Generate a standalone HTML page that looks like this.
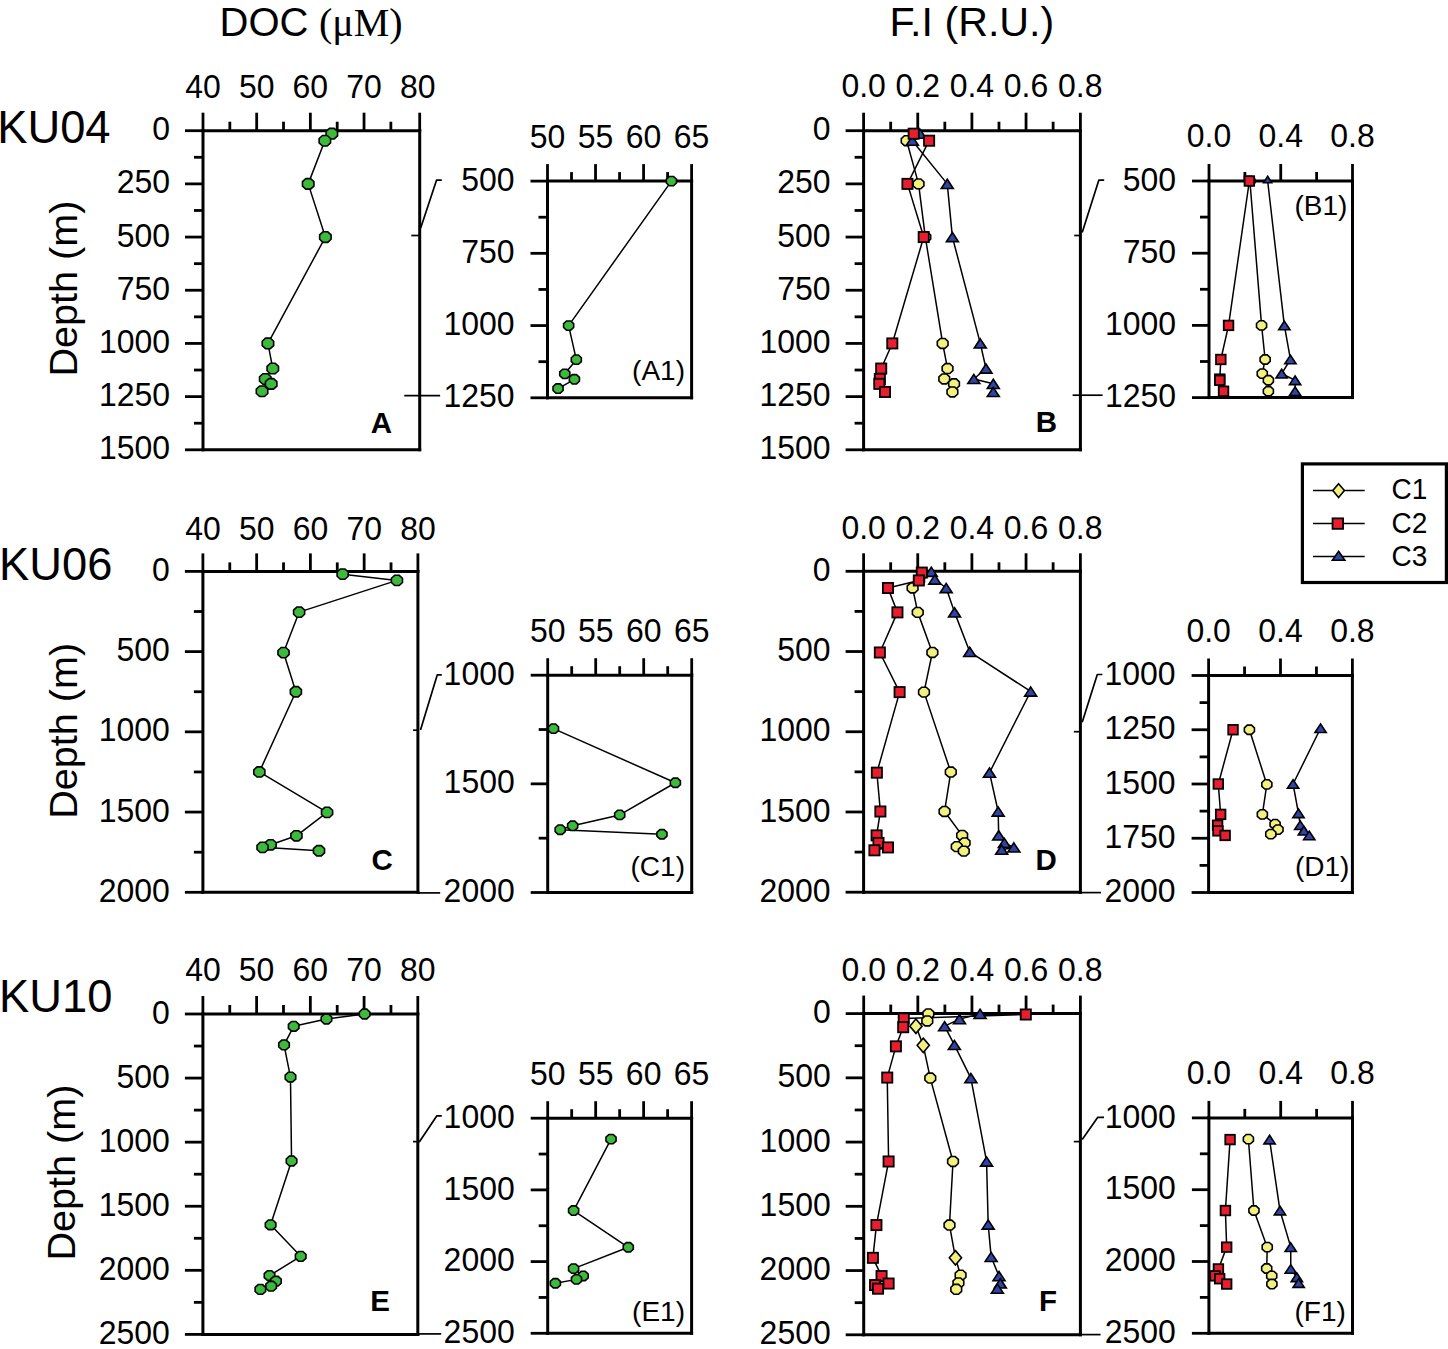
<!DOCTYPE html>
<html><head><meta charset="utf-8"><title>DOC and FI profiles</title>
<style>html,body{margin:0;padding:0;background:#fff;width:1448px;height:1349px;overflow:hidden}svg{display:block}</style>
</head><body>
<svg width="1448" height="1349" viewBox="0 0 1448 1349">
<rect width="100%" height="100%" fill="#fff"/>
<g stroke="#000" fill="none">
</g>
<g stroke="#000" fill="#000">
<line x1="203" y1="130.7" x2="419.7" y2="130.7" stroke-width="3" stroke-linecap="square"/>
<line x1="203" y1="449.8" x2="419.7" y2="449.8" stroke-width="3" stroke-linecap="square"/>
<line x1="203" y1="130.7" x2="203" y2="449.8" stroke-width="3" stroke-linecap="square"/>
<line x1="419.7" y1="130.7" x2="419.7" y2="449.8" stroke-width="3" stroke-linecap="square"/>
<line x1="203" y1="130.7" x2="203" y2="112.7" stroke-width="2.8" stroke-linecap="butt"/>
<line x1="229.84" y1="130.7" x2="229.84" y2="121.7" stroke-width="2.8" stroke-linecap="butt"/>
<line x1="256.68" y1="130.7" x2="256.68" y2="112.7" stroke-width="2.8" stroke-linecap="butt"/>
<line x1="283.51" y1="130.7" x2="283.51" y2="121.7" stroke-width="2.8" stroke-linecap="butt"/>
<line x1="310.35" y1="130.7" x2="310.35" y2="112.7" stroke-width="2.8" stroke-linecap="butt"/>
<line x1="337.19" y1="130.7" x2="337.19" y2="121.7" stroke-width="2.8" stroke-linecap="butt"/>
<line x1="364.02" y1="130.7" x2="364.02" y2="112.7" stroke-width="2.8" stroke-linecap="butt"/>
<line x1="390.86" y1="130.7" x2="390.86" y2="121.7" stroke-width="2.8" stroke-linecap="butt"/>
<line x1="419.7" y1="130.7" x2="419.7" y2="112.7" stroke-width="2.8" stroke-linecap="butt"/>
<line x1="203" y1="130.7" x2="185" y2="130.7" stroke-width="2.8" stroke-linecap="butt"/>
<line x1="203" y1="157.29" x2="194" y2="157.29" stroke-width="2.8" stroke-linecap="butt"/>
<line x1="203" y1="183.88" x2="185" y2="183.88" stroke-width="2.8" stroke-linecap="butt"/>
<line x1="203" y1="210.47" x2="194" y2="210.47" stroke-width="2.8" stroke-linecap="butt"/>
<line x1="203" y1="237.07" x2="185" y2="237.07" stroke-width="2.8" stroke-linecap="butt"/>
<line x1="203" y1="263.66" x2="194" y2="263.66" stroke-width="2.8" stroke-linecap="butt"/>
<line x1="203" y1="290.25" x2="185" y2="290.25" stroke-width="2.8" stroke-linecap="butt"/>
<line x1="203" y1="316.84" x2="194" y2="316.84" stroke-width="2.8" stroke-linecap="butt"/>
<line x1="203" y1="343.43" x2="185" y2="343.43" stroke-width="2.8" stroke-linecap="butt"/>
<line x1="203" y1="370.02" x2="194" y2="370.02" stroke-width="2.8" stroke-linecap="butt"/>
<line x1="203" y1="396.62" x2="185" y2="396.62" stroke-width="2.8" stroke-linecap="butt"/>
<line x1="203" y1="423.21" x2="194" y2="423.21" stroke-width="2.8" stroke-linecap="butt"/>
<line x1="203" y1="449.8" x2="185" y2="449.8" stroke-width="2.8" stroke-linecap="butt"/>
<text stroke="none" fill="#000" transform="translate(203,97.7) scale(0.94,1)" font-size="34" text-anchor="middle" font-weight="normal" font-family='"Liberation Sans", sans-serif' >40</text>
<text stroke="none" fill="#000" transform="translate(256.68,97.7) scale(0.94,1)" font-size="34" text-anchor="middle" font-weight="normal" font-family='"Liberation Sans", sans-serif' >50</text>
<text stroke="none" fill="#000" transform="translate(310.35,97.7) scale(0.94,1)" font-size="34" text-anchor="middle" font-weight="normal" font-family='"Liberation Sans", sans-serif' >60</text>
<text stroke="none" fill="#000" transform="translate(364.02,97.7) scale(0.94,1)" font-size="34" text-anchor="middle" font-weight="normal" font-family='"Liberation Sans", sans-serif' >70</text>
<text stroke="none" fill="#000" transform="translate(417.7,97.7) scale(0.94,1)" font-size="34" text-anchor="middle" font-weight="normal" font-family='"Liberation Sans", sans-serif' >80</text>
<text stroke="none" fill="#000" transform="translate(170,140.3) scale(0.94,1)" font-size="34" text-anchor="end" font-weight="normal" font-family='"Liberation Sans", sans-serif' >0</text>
<text stroke="none" fill="#000" transform="translate(170,193.48) scale(0.94,1)" font-size="34" text-anchor="end" font-weight="normal" font-family='"Liberation Sans", sans-serif' >250</text>
<text stroke="none" fill="#000" transform="translate(170,246.67) scale(0.94,1)" font-size="34" text-anchor="end" font-weight="normal" font-family='"Liberation Sans", sans-serif' >500</text>
<text stroke="none" fill="#000" transform="translate(170,299.85) scale(0.94,1)" font-size="34" text-anchor="end" font-weight="normal" font-family='"Liberation Sans", sans-serif' >750</text>
<text stroke="none" fill="#000" transform="translate(170,353.03) scale(0.94,1)" font-size="34" text-anchor="end" font-weight="normal" font-family='"Liberation Sans", sans-serif' >1000</text>
<text stroke="none" fill="#000" transform="translate(170,406.22) scale(0.94,1)" font-size="34" text-anchor="end" font-weight="normal" font-family='"Liberation Sans", sans-serif' >1250</text>
<text stroke="none" fill="#000" transform="translate(170,459.4) scale(0.94,1)" font-size="34" text-anchor="end" font-weight="normal" font-family='"Liberation Sans", sans-serif' >1500</text>
<line x1="547.5" y1="181.1" x2="691.6" y2="181.1" stroke-width="3" stroke-linecap="square"/>
<line x1="547.5" y1="397.8" x2="691.6" y2="397.8" stroke-width="3" stroke-linecap="square"/>
<line x1="547.5" y1="181.1" x2="547.5" y2="397.8" stroke-width="3" stroke-linecap="square"/>
<line x1="691.6" y1="181.1" x2="691.6" y2="397.8" stroke-width="3" stroke-linecap="square"/>
<line x1="547.5" y1="181.1" x2="547.5" y2="164.1" stroke-width="2.8" stroke-linecap="butt"/>
<line x1="571.52" y1="181.1" x2="571.52" y2="172.1" stroke-width="2.8" stroke-linecap="butt"/>
<line x1="595.53" y1="181.1" x2="595.53" y2="164.1" stroke-width="2.8" stroke-linecap="butt"/>
<line x1="619.55" y1="181.1" x2="619.55" y2="172.1" stroke-width="2.8" stroke-linecap="butt"/>
<line x1="643.57" y1="181.1" x2="643.57" y2="164.1" stroke-width="2.8" stroke-linecap="butt"/>
<line x1="667.58" y1="181.1" x2="667.58" y2="172.1" stroke-width="2.8" stroke-linecap="butt"/>
<line x1="691.6" y1="181.1" x2="691.6" y2="164.1" stroke-width="2.8" stroke-linecap="butt"/>
<line x1="547.5" y1="181.1" x2="530.5" y2="181.1" stroke-width="2.8" stroke-linecap="butt"/>
<line x1="547.5" y1="217.22" x2="538.5" y2="217.22" stroke-width="2.8" stroke-linecap="butt"/>
<line x1="547.5" y1="253.33" x2="530.5" y2="253.33" stroke-width="2.8" stroke-linecap="butt"/>
<line x1="547.5" y1="289.45" x2="538.5" y2="289.45" stroke-width="2.8" stroke-linecap="butt"/>
<line x1="547.5" y1="325.57" x2="530.5" y2="325.57" stroke-width="2.8" stroke-linecap="butt"/>
<line x1="547.5" y1="361.68" x2="538.5" y2="361.68" stroke-width="2.8" stroke-linecap="butt"/>
<line x1="547.5" y1="397.8" x2="530.5" y2="397.8" stroke-width="2.8" stroke-linecap="butt"/>
<text stroke="none" fill="#000" transform="translate(547.5,147.5) scale(0.94,1)" font-size="34" text-anchor="middle" font-weight="normal" font-family='"Liberation Sans", sans-serif' >50</text>
<text stroke="none" fill="#000" transform="translate(595.53,147.5) scale(0.94,1)" font-size="34" text-anchor="middle" font-weight="normal" font-family='"Liberation Sans", sans-serif' >55</text>
<text stroke="none" fill="#000" transform="translate(643.57,147.5) scale(0.94,1)" font-size="34" text-anchor="middle" font-weight="normal" font-family='"Liberation Sans", sans-serif' >60</text>
<text stroke="none" fill="#000" transform="translate(691.6,147.5) scale(0.94,1)" font-size="34" text-anchor="middle" font-weight="normal" font-family='"Liberation Sans", sans-serif' >65</text>
<text stroke="none" fill="#000" transform="translate(514.5,190.7) scale(0.94,1)" font-size="34" text-anchor="end" font-weight="normal" font-family='"Liberation Sans", sans-serif' >500</text>
<text stroke="none" fill="#000" transform="translate(514.5,262.93) scale(0.94,1)" font-size="34" text-anchor="end" font-weight="normal" font-family='"Liberation Sans", sans-serif' >750</text>
<text stroke="none" fill="#000" transform="translate(514.5,335.17) scale(0.94,1)" font-size="34" text-anchor="end" font-weight="normal" font-family='"Liberation Sans", sans-serif' >1000</text>
<text stroke="none" fill="#000" transform="translate(514.5,407.4) scale(0.94,1)" font-size="34" text-anchor="end" font-weight="normal" font-family='"Liberation Sans", sans-serif' >1250</text>
<line x1="863.6" y1="130.7" x2="1080.4" y2="130.7" stroke-width="3" stroke-linecap="square"/>
<line x1="863.6" y1="449.8" x2="1080.4" y2="449.8" stroke-width="3" stroke-linecap="square"/>
<line x1="863.6" y1="130.7" x2="863.6" y2="449.8" stroke-width="3" stroke-linecap="square"/>
<line x1="1080.4" y1="130.7" x2="1080.4" y2="449.8" stroke-width="3" stroke-linecap="square"/>
<line x1="863.6" y1="130.7" x2="863.6" y2="112.7" stroke-width="2.8" stroke-linecap="butt"/>
<line x1="890.68" y1="130.7" x2="890.68" y2="121.7" stroke-width="2.8" stroke-linecap="butt"/>
<line x1="917.75" y1="130.7" x2="917.75" y2="112.7" stroke-width="2.8" stroke-linecap="butt"/>
<line x1="944.83" y1="130.7" x2="944.83" y2="121.7" stroke-width="2.8" stroke-linecap="butt"/>
<line x1="971.9" y1="130.7" x2="971.9" y2="112.7" stroke-width="2.8" stroke-linecap="butt"/>
<line x1="998.98" y1="130.7" x2="998.98" y2="121.7" stroke-width="2.8" stroke-linecap="butt"/>
<line x1="1026.05" y1="130.7" x2="1026.05" y2="112.7" stroke-width="2.8" stroke-linecap="butt"/>
<line x1="1053.12" y1="130.7" x2="1053.12" y2="121.7" stroke-width="2.8" stroke-linecap="butt"/>
<line x1="1080.4" y1="130.7" x2="1080.4" y2="112.7" stroke-width="2.8" stroke-linecap="butt"/>
<line x1="863.6" y1="130.7" x2="845.6" y2="130.7" stroke-width="2.8" stroke-linecap="butt"/>
<line x1="863.6" y1="157.29" x2="854.6" y2="157.29" stroke-width="2.8" stroke-linecap="butt"/>
<line x1="863.6" y1="183.88" x2="845.6" y2="183.88" stroke-width="2.8" stroke-linecap="butt"/>
<line x1="863.6" y1="210.47" x2="854.6" y2="210.47" stroke-width="2.8" stroke-linecap="butt"/>
<line x1="863.6" y1="237.07" x2="845.6" y2="237.07" stroke-width="2.8" stroke-linecap="butt"/>
<line x1="863.6" y1="263.66" x2="854.6" y2="263.66" stroke-width="2.8" stroke-linecap="butt"/>
<line x1="863.6" y1="290.25" x2="845.6" y2="290.25" stroke-width="2.8" stroke-linecap="butt"/>
<line x1="863.6" y1="316.84" x2="854.6" y2="316.84" stroke-width="2.8" stroke-linecap="butt"/>
<line x1="863.6" y1="343.43" x2="845.6" y2="343.43" stroke-width="2.8" stroke-linecap="butt"/>
<line x1="863.6" y1="370.02" x2="854.6" y2="370.02" stroke-width="2.8" stroke-linecap="butt"/>
<line x1="863.6" y1="396.62" x2="845.6" y2="396.62" stroke-width="2.8" stroke-linecap="butt"/>
<line x1="863.6" y1="423.21" x2="854.6" y2="423.21" stroke-width="2.8" stroke-linecap="butt"/>
<line x1="863.6" y1="449.8" x2="845.6" y2="449.8" stroke-width="2.8" stroke-linecap="butt"/>
<text stroke="none" fill="#000" transform="translate(863.6,97.4) scale(0.94,1)" font-size="34" text-anchor="middle" font-weight="normal" font-family='"Liberation Sans", sans-serif' >0.0</text>
<text stroke="none" fill="#000" transform="translate(917.75,97.4) scale(0.94,1)" font-size="34" text-anchor="middle" font-weight="normal" font-family='"Liberation Sans", sans-serif' >0.2</text>
<text stroke="none" fill="#000" transform="translate(971.9,97.4) scale(0.94,1)" font-size="34" text-anchor="middle" font-weight="normal" font-family='"Liberation Sans", sans-serif' >0.4</text>
<text stroke="none" fill="#000" transform="translate(1026.05,97.4) scale(0.94,1)" font-size="34" text-anchor="middle" font-weight="normal" font-family='"Liberation Sans", sans-serif' >0.6</text>
<text stroke="none" fill="#000" transform="translate(1080.2,97.4) scale(0.94,1)" font-size="34" text-anchor="middle" font-weight="normal" font-family='"Liberation Sans", sans-serif' >0.8</text>
<text stroke="none" fill="#000" transform="translate(830.6,140.3) scale(0.94,1)" font-size="34" text-anchor="end" font-weight="normal" font-family='"Liberation Sans", sans-serif' >0</text>
<text stroke="none" fill="#000" transform="translate(830.6,193.48) scale(0.94,1)" font-size="34" text-anchor="end" font-weight="normal" font-family='"Liberation Sans", sans-serif' >250</text>
<text stroke="none" fill="#000" transform="translate(830.6,246.67) scale(0.94,1)" font-size="34" text-anchor="end" font-weight="normal" font-family='"Liberation Sans", sans-serif' >500</text>
<text stroke="none" fill="#000" transform="translate(830.6,299.85) scale(0.94,1)" font-size="34" text-anchor="end" font-weight="normal" font-family='"Liberation Sans", sans-serif' >750</text>
<text stroke="none" fill="#000" transform="translate(830.6,353.03) scale(0.94,1)" font-size="34" text-anchor="end" font-weight="normal" font-family='"Liberation Sans", sans-serif' >1000</text>
<text stroke="none" fill="#000" transform="translate(830.6,406.22) scale(0.94,1)" font-size="34" text-anchor="end" font-weight="normal" font-family='"Liberation Sans", sans-serif' >1250</text>
<text stroke="none" fill="#000" transform="translate(830.6,459.4) scale(0.94,1)" font-size="34" text-anchor="end" font-weight="normal" font-family='"Liberation Sans", sans-serif' >1500</text>
<line x1="1209" y1="181" x2="1352.5" y2="181" stroke-width="3" stroke-linecap="square"/>
<line x1="1209" y1="397.6" x2="1352.5" y2="397.6" stroke-width="3" stroke-linecap="square"/>
<line x1="1209" y1="181" x2="1209" y2="397.6" stroke-width="3" stroke-linecap="square"/>
<line x1="1352.5" y1="181" x2="1352.5" y2="397.6" stroke-width="3" stroke-linecap="square"/>
<line x1="1209" y1="181" x2="1209" y2="164" stroke-width="2.8" stroke-linecap="butt"/>
<line x1="1244.88" y1="181" x2="1244.88" y2="172" stroke-width="2.8" stroke-linecap="butt"/>
<line x1="1280.75" y1="181" x2="1280.75" y2="164" stroke-width="2.8" stroke-linecap="butt"/>
<line x1="1316.62" y1="181" x2="1316.62" y2="172" stroke-width="2.8" stroke-linecap="butt"/>
<line x1="1352.5" y1="181" x2="1352.5" y2="164" stroke-width="2.8" stroke-linecap="butt"/>
<line x1="1209" y1="181" x2="1192" y2="181" stroke-width="2.8" stroke-linecap="butt"/>
<line x1="1209" y1="217.1" x2="1200" y2="217.1" stroke-width="2.8" stroke-linecap="butt"/>
<line x1="1209" y1="253.2" x2="1192" y2="253.2" stroke-width="2.8" stroke-linecap="butt"/>
<line x1="1209" y1="289.3" x2="1200" y2="289.3" stroke-width="2.8" stroke-linecap="butt"/>
<line x1="1209" y1="325.4" x2="1192" y2="325.4" stroke-width="2.8" stroke-linecap="butt"/>
<line x1="1209" y1="361.5" x2="1200" y2="361.5" stroke-width="2.8" stroke-linecap="butt"/>
<line x1="1209" y1="397.6" x2="1192" y2="397.6" stroke-width="2.8" stroke-linecap="butt"/>
<text stroke="none" fill="#000" transform="translate(1209,147.4) scale(0.94,1)" font-size="34" text-anchor="middle" font-weight="normal" font-family='"Liberation Sans", sans-serif' >0.0</text>
<text stroke="none" fill="#000" transform="translate(1280.75,147.4) scale(0.94,1)" font-size="34" text-anchor="middle" font-weight="normal" font-family='"Liberation Sans", sans-serif' >0.4</text>
<text stroke="none" fill="#000" transform="translate(1352.5,147.4) scale(0.94,1)" font-size="34" text-anchor="middle" font-weight="normal" font-family='"Liberation Sans", sans-serif' >0.8</text>
<text stroke="none" fill="#000" transform="translate(1176,190.6) scale(0.94,1)" font-size="34" text-anchor="end" font-weight="normal" font-family='"Liberation Sans", sans-serif' >500</text>
<text stroke="none" fill="#000" transform="translate(1176,262.8) scale(0.94,1)" font-size="34" text-anchor="end" font-weight="normal" font-family='"Liberation Sans", sans-serif' >750</text>
<text stroke="none" fill="#000" transform="translate(1176,335) scale(0.94,1)" font-size="34" text-anchor="end" font-weight="normal" font-family='"Liberation Sans", sans-serif' >1000</text>
<text stroke="none" fill="#000" transform="translate(1176,407.2) scale(0.94,1)" font-size="34" text-anchor="end" font-weight="normal" font-family='"Liberation Sans", sans-serif' >1250</text>
<line x1="202.9" y1="571.4" x2="417.9" y2="571.4" stroke-width="3" stroke-linecap="square"/>
<line x1="202.9" y1="892.3" x2="417.9" y2="892.3" stroke-width="3" stroke-linecap="square"/>
<line x1="202.9" y1="571.4" x2="202.9" y2="892.3" stroke-width="3" stroke-linecap="square"/>
<line x1="417.9" y1="571.4" x2="417.9" y2="892.3" stroke-width="3" stroke-linecap="square"/>
<line x1="202.9" y1="571.4" x2="202.9" y2="553.4" stroke-width="2.8" stroke-linecap="butt"/>
<line x1="229.78" y1="571.4" x2="229.78" y2="562.4" stroke-width="2.8" stroke-linecap="butt"/>
<line x1="256.65" y1="571.4" x2="256.65" y2="553.4" stroke-width="2.8" stroke-linecap="butt"/>
<line x1="283.52" y1="571.4" x2="283.52" y2="562.4" stroke-width="2.8" stroke-linecap="butt"/>
<line x1="310.4" y1="571.4" x2="310.4" y2="553.4" stroke-width="2.8" stroke-linecap="butt"/>
<line x1="337.27" y1="571.4" x2="337.27" y2="562.4" stroke-width="2.8" stroke-linecap="butt"/>
<line x1="364.15" y1="571.4" x2="364.15" y2="553.4" stroke-width="2.8" stroke-linecap="butt"/>
<line x1="391.02" y1="571.4" x2="391.02" y2="562.4" stroke-width="2.8" stroke-linecap="butt"/>
<line x1="417.9" y1="571.4" x2="417.9" y2="553.4" stroke-width="2.8" stroke-linecap="butt"/>
<line x1="202.9" y1="571.4" x2="184.9" y2="571.4" stroke-width="2.8" stroke-linecap="butt"/>
<line x1="202.9" y1="611.51" x2="193.9" y2="611.51" stroke-width="2.8" stroke-linecap="butt"/>
<line x1="202.9" y1="651.62" x2="184.9" y2="651.62" stroke-width="2.8" stroke-linecap="butt"/>
<line x1="202.9" y1="691.74" x2="193.9" y2="691.74" stroke-width="2.8" stroke-linecap="butt"/>
<line x1="202.9" y1="731.85" x2="184.9" y2="731.85" stroke-width="2.8" stroke-linecap="butt"/>
<line x1="202.9" y1="771.96" x2="193.9" y2="771.96" stroke-width="2.8" stroke-linecap="butt"/>
<line x1="202.9" y1="812.07" x2="184.9" y2="812.07" stroke-width="2.8" stroke-linecap="butt"/>
<line x1="202.9" y1="852.19" x2="193.9" y2="852.19" stroke-width="2.8" stroke-linecap="butt"/>
<line x1="202.9" y1="892.3" x2="184.9" y2="892.3" stroke-width="2.8" stroke-linecap="butt"/>
<text stroke="none" fill="#000" transform="translate(202.9,539.7) scale(0.94,1)" font-size="34" text-anchor="middle" font-weight="normal" font-family='"Liberation Sans", sans-serif' >40</text>
<text stroke="none" fill="#000" transform="translate(256.65,539.7) scale(0.94,1)" font-size="34" text-anchor="middle" font-weight="normal" font-family='"Liberation Sans", sans-serif' >50</text>
<text stroke="none" fill="#000" transform="translate(310.4,539.7) scale(0.94,1)" font-size="34" text-anchor="middle" font-weight="normal" font-family='"Liberation Sans", sans-serif' >60</text>
<text stroke="none" fill="#000" transform="translate(364.15,539.7) scale(0.94,1)" font-size="34" text-anchor="middle" font-weight="normal" font-family='"Liberation Sans", sans-serif' >70</text>
<text stroke="none" fill="#000" transform="translate(417.9,539.7) scale(0.94,1)" font-size="34" text-anchor="middle" font-weight="normal" font-family='"Liberation Sans", sans-serif' >80</text>
<text stroke="none" fill="#000" transform="translate(169.9,581) scale(0.94,1)" font-size="34" text-anchor="end" font-weight="normal" font-family='"Liberation Sans", sans-serif' >0</text>
<text stroke="none" fill="#000" transform="translate(169.9,661.23) scale(0.94,1)" font-size="34" text-anchor="end" font-weight="normal" font-family='"Liberation Sans", sans-serif' >500</text>
<text stroke="none" fill="#000" transform="translate(169.9,741.45) scale(0.94,1)" font-size="34" text-anchor="end" font-weight="normal" font-family='"Liberation Sans", sans-serif' >1000</text>
<text stroke="none" fill="#000" transform="translate(169.9,821.67) scale(0.94,1)" font-size="34" text-anchor="end" font-weight="normal" font-family='"Liberation Sans", sans-serif' >1500</text>
<text stroke="none" fill="#000" transform="translate(169.9,901.9) scale(0.94,1)" font-size="34" text-anchor="end" font-weight="normal" font-family='"Liberation Sans", sans-serif' >2000</text>
<line x1="547.7" y1="675.2" x2="691.7" y2="675.2" stroke-width="3" stroke-linecap="square"/>
<line x1="547.7" y1="892.5" x2="691.7" y2="892.5" stroke-width="3" stroke-linecap="square"/>
<line x1="547.7" y1="675.2" x2="547.7" y2="892.5" stroke-width="3" stroke-linecap="square"/>
<line x1="691.7" y1="675.2" x2="691.7" y2="892.5" stroke-width="3" stroke-linecap="square"/>
<line x1="547.7" y1="675.2" x2="547.7" y2="658.2" stroke-width="2.8" stroke-linecap="butt"/>
<line x1="571.7" y1="675.2" x2="571.7" y2="666.2" stroke-width="2.8" stroke-linecap="butt"/>
<line x1="595.7" y1="675.2" x2="595.7" y2="658.2" stroke-width="2.8" stroke-linecap="butt"/>
<line x1="619.7" y1="675.2" x2="619.7" y2="666.2" stroke-width="2.8" stroke-linecap="butt"/>
<line x1="643.7" y1="675.2" x2="643.7" y2="658.2" stroke-width="2.8" stroke-linecap="butt"/>
<line x1="667.7" y1="675.2" x2="667.7" y2="666.2" stroke-width="2.8" stroke-linecap="butt"/>
<line x1="691.7" y1="675.2" x2="691.7" y2="658.2" stroke-width="2.8" stroke-linecap="butt"/>
<line x1="547.7" y1="675.2" x2="530.7" y2="675.2" stroke-width="2.8" stroke-linecap="butt"/>
<line x1="547.7" y1="729.53" x2="538.7" y2="729.53" stroke-width="2.8" stroke-linecap="butt"/>
<line x1="547.7" y1="783.85" x2="530.7" y2="783.85" stroke-width="2.8" stroke-linecap="butt"/>
<line x1="547.7" y1="838.17" x2="538.7" y2="838.17" stroke-width="2.8" stroke-linecap="butt"/>
<line x1="547.7" y1="892.5" x2="530.7" y2="892.5" stroke-width="2.8" stroke-linecap="butt"/>
<text stroke="none" fill="#000" transform="translate(547.7,641.5) scale(0.94,1)" font-size="34" text-anchor="middle" font-weight="normal" font-family='"Liberation Sans", sans-serif' >50</text>
<text stroke="none" fill="#000" transform="translate(595.7,641.5) scale(0.94,1)" font-size="34" text-anchor="middle" font-weight="normal" font-family='"Liberation Sans", sans-serif' >55</text>
<text stroke="none" fill="#000" transform="translate(643.7,641.5) scale(0.94,1)" font-size="34" text-anchor="middle" font-weight="normal" font-family='"Liberation Sans", sans-serif' >60</text>
<text stroke="none" fill="#000" transform="translate(691.7,641.5) scale(0.94,1)" font-size="34" text-anchor="middle" font-weight="normal" font-family='"Liberation Sans", sans-serif' >65</text>
<text stroke="none" fill="#000" transform="translate(514.7,684.8) scale(0.94,1)" font-size="34" text-anchor="end" font-weight="normal" font-family='"Liberation Sans", sans-serif' >1000</text>
<text stroke="none" fill="#000" transform="translate(514.7,793.45) scale(0.94,1)" font-size="34" text-anchor="end" font-weight="normal" font-family='"Liberation Sans", sans-serif' >1500</text>
<text stroke="none" fill="#000" transform="translate(514.7,902.1) scale(0.94,1)" font-size="34" text-anchor="end" font-weight="normal" font-family='"Liberation Sans", sans-serif' >2000</text>
<line x1="863.6" y1="571.3" x2="1080.4" y2="571.3" stroke-width="3" stroke-linecap="square"/>
<line x1="863.6" y1="892.2" x2="1080.4" y2="892.2" stroke-width="3" stroke-linecap="square"/>
<line x1="863.6" y1="571.3" x2="863.6" y2="892.2" stroke-width="3" stroke-linecap="square"/>
<line x1="1080.4" y1="571.3" x2="1080.4" y2="892.2" stroke-width="3" stroke-linecap="square"/>
<line x1="863.6" y1="571.3" x2="863.6" y2="553.3" stroke-width="2.8" stroke-linecap="butt"/>
<line x1="890.68" y1="571.3" x2="890.68" y2="562.3" stroke-width="2.8" stroke-linecap="butt"/>
<line x1="917.75" y1="571.3" x2="917.75" y2="553.3" stroke-width="2.8" stroke-linecap="butt"/>
<line x1="944.83" y1="571.3" x2="944.83" y2="562.3" stroke-width="2.8" stroke-linecap="butt"/>
<line x1="971.9" y1="571.3" x2="971.9" y2="553.3" stroke-width="2.8" stroke-linecap="butt"/>
<line x1="998.98" y1="571.3" x2="998.98" y2="562.3" stroke-width="2.8" stroke-linecap="butt"/>
<line x1="1026.05" y1="571.3" x2="1026.05" y2="553.3" stroke-width="2.8" stroke-linecap="butt"/>
<line x1="1053.12" y1="571.3" x2="1053.12" y2="562.3" stroke-width="2.8" stroke-linecap="butt"/>
<line x1="1080.4" y1="571.3" x2="1080.4" y2="553.3" stroke-width="2.8" stroke-linecap="butt"/>
<line x1="863.6" y1="571.3" x2="845.6" y2="571.3" stroke-width="2.8" stroke-linecap="butt"/>
<line x1="863.6" y1="611.41" x2="854.6" y2="611.41" stroke-width="2.8" stroke-linecap="butt"/>
<line x1="863.6" y1="651.52" x2="845.6" y2="651.52" stroke-width="2.8" stroke-linecap="butt"/>
<line x1="863.6" y1="691.64" x2="854.6" y2="691.64" stroke-width="2.8" stroke-linecap="butt"/>
<line x1="863.6" y1="731.75" x2="845.6" y2="731.75" stroke-width="2.8" stroke-linecap="butt"/>
<line x1="863.6" y1="771.86" x2="854.6" y2="771.86" stroke-width="2.8" stroke-linecap="butt"/>
<line x1="863.6" y1="811.98" x2="845.6" y2="811.98" stroke-width="2.8" stroke-linecap="butt"/>
<line x1="863.6" y1="852.09" x2="854.6" y2="852.09" stroke-width="2.8" stroke-linecap="butt"/>
<line x1="863.6" y1="892.2" x2="845.6" y2="892.2" stroke-width="2.8" stroke-linecap="butt"/>
<text stroke="none" fill="#000" transform="translate(863.6,539.3) scale(0.94,1)" font-size="34" text-anchor="middle" font-weight="normal" font-family='"Liberation Sans", sans-serif' >0.0</text>
<text stroke="none" fill="#000" transform="translate(917.75,539.3) scale(0.94,1)" font-size="34" text-anchor="middle" font-weight="normal" font-family='"Liberation Sans", sans-serif' >0.2</text>
<text stroke="none" fill="#000" transform="translate(971.9,539.3) scale(0.94,1)" font-size="34" text-anchor="middle" font-weight="normal" font-family='"Liberation Sans", sans-serif' >0.4</text>
<text stroke="none" fill="#000" transform="translate(1026.05,539.3) scale(0.94,1)" font-size="34" text-anchor="middle" font-weight="normal" font-family='"Liberation Sans", sans-serif' >0.6</text>
<text stroke="none" fill="#000" transform="translate(1080.2,539.3) scale(0.94,1)" font-size="34" text-anchor="middle" font-weight="normal" font-family='"Liberation Sans", sans-serif' >0.8</text>
<text stroke="none" fill="#000" transform="translate(830.6,580.9) scale(0.94,1)" font-size="34" text-anchor="end" font-weight="normal" font-family='"Liberation Sans", sans-serif' >0</text>
<text stroke="none" fill="#000" transform="translate(830.6,661.12) scale(0.94,1)" font-size="34" text-anchor="end" font-weight="normal" font-family='"Liberation Sans", sans-serif' >500</text>
<text stroke="none" fill="#000" transform="translate(830.6,741.35) scale(0.94,1)" font-size="34" text-anchor="end" font-weight="normal" font-family='"Liberation Sans", sans-serif' >1000</text>
<text stroke="none" fill="#000" transform="translate(830.6,821.58) scale(0.94,1)" font-size="34" text-anchor="end" font-weight="normal" font-family='"Liberation Sans", sans-serif' >1500</text>
<text stroke="none" fill="#000" transform="translate(830.6,901.8) scale(0.94,1)" font-size="34" text-anchor="end" font-weight="normal" font-family='"Liberation Sans", sans-serif' >2000</text>
<line x1="1208.6" y1="675.5" x2="1352.4" y2="675.5" stroke-width="3" stroke-linecap="square"/>
<line x1="1208.6" y1="892.5" x2="1352.4" y2="892.5" stroke-width="3" stroke-linecap="square"/>
<line x1="1208.6" y1="675.5" x2="1208.6" y2="892.5" stroke-width="3" stroke-linecap="square"/>
<line x1="1352.4" y1="675.5" x2="1352.4" y2="892.5" stroke-width="3" stroke-linecap="square"/>
<line x1="1208.6" y1="675.5" x2="1208.6" y2="658.5" stroke-width="2.8" stroke-linecap="butt"/>
<line x1="1244.55" y1="675.5" x2="1244.55" y2="666.5" stroke-width="2.8" stroke-linecap="butt"/>
<line x1="1280.5" y1="675.5" x2="1280.5" y2="658.5" stroke-width="2.8" stroke-linecap="butt"/>
<line x1="1316.45" y1="675.5" x2="1316.45" y2="666.5" stroke-width="2.8" stroke-linecap="butt"/>
<line x1="1352.4" y1="675.5" x2="1352.4" y2="658.5" stroke-width="2.8" stroke-linecap="butt"/>
<line x1="1208.6" y1="675.5" x2="1191.6" y2="675.5" stroke-width="2.8" stroke-linecap="butt"/>
<line x1="1208.6" y1="702.62" x2="1199.6" y2="702.62" stroke-width="2.8" stroke-linecap="butt"/>
<line x1="1208.6" y1="729.75" x2="1191.6" y2="729.75" stroke-width="2.8" stroke-linecap="butt"/>
<line x1="1208.6" y1="756.88" x2="1199.6" y2="756.88" stroke-width="2.8" stroke-linecap="butt"/>
<line x1="1208.6" y1="784" x2="1191.6" y2="784" stroke-width="2.8" stroke-linecap="butt"/>
<line x1="1208.6" y1="811.12" x2="1199.6" y2="811.12" stroke-width="2.8" stroke-linecap="butt"/>
<line x1="1208.6" y1="838.25" x2="1191.6" y2="838.25" stroke-width="2.8" stroke-linecap="butt"/>
<line x1="1208.6" y1="865.38" x2="1199.6" y2="865.38" stroke-width="2.8" stroke-linecap="butt"/>
<line x1="1208.6" y1="892.5" x2="1191.6" y2="892.5" stroke-width="2.8" stroke-linecap="butt"/>
<text stroke="none" fill="#000" transform="translate(1208.6,642) scale(0.94,1)" font-size="34" text-anchor="middle" font-weight="normal" font-family='"Liberation Sans", sans-serif' >0.0</text>
<text stroke="none" fill="#000" transform="translate(1280.5,642) scale(0.94,1)" font-size="34" text-anchor="middle" font-weight="normal" font-family='"Liberation Sans", sans-serif' >0.4</text>
<text stroke="none" fill="#000" transform="translate(1352.4,642) scale(0.94,1)" font-size="34" text-anchor="middle" font-weight="normal" font-family='"Liberation Sans", sans-serif' >0.8</text>
<text stroke="none" fill="#000" transform="translate(1175.6,685.1) scale(0.94,1)" font-size="34" text-anchor="end" font-weight="normal" font-family='"Liberation Sans", sans-serif' >1000</text>
<text stroke="none" fill="#000" transform="translate(1175.6,739.35) scale(0.94,1)" font-size="34" text-anchor="end" font-weight="normal" font-family='"Liberation Sans", sans-serif' >1250</text>
<text stroke="none" fill="#000" transform="translate(1175.6,793.6) scale(0.94,1)" font-size="34" text-anchor="end" font-weight="normal" font-family='"Liberation Sans", sans-serif' >1500</text>
<text stroke="none" fill="#000" transform="translate(1175.6,847.85) scale(0.94,1)" font-size="34" text-anchor="end" font-weight="normal" font-family='"Liberation Sans", sans-serif' >1750</text>
<text stroke="none" fill="#000" transform="translate(1175.6,902.1) scale(0.94,1)" font-size="34" text-anchor="end" font-weight="normal" font-family='"Liberation Sans", sans-serif' >2000</text>
<line x1="202.9" y1="1014" x2="417.8" y2="1014" stroke-width="3" stroke-linecap="square"/>
<line x1="202.9" y1="1334.4" x2="417.8" y2="1334.4" stroke-width="3" stroke-linecap="square"/>
<line x1="202.9" y1="1014" x2="202.9" y2="1334.4" stroke-width="3" stroke-linecap="square"/>
<line x1="417.8" y1="1014" x2="417.8" y2="1334.4" stroke-width="3" stroke-linecap="square"/>
<line x1="202.9" y1="1014" x2="202.9" y2="996" stroke-width="2.8" stroke-linecap="butt"/>
<line x1="229.76" y1="1014" x2="229.76" y2="1005" stroke-width="2.8" stroke-linecap="butt"/>
<line x1="256.62" y1="1014" x2="256.62" y2="996" stroke-width="2.8" stroke-linecap="butt"/>
<line x1="283.49" y1="1014" x2="283.49" y2="1005" stroke-width="2.8" stroke-linecap="butt"/>
<line x1="310.35" y1="1014" x2="310.35" y2="996" stroke-width="2.8" stroke-linecap="butt"/>
<line x1="337.21" y1="1014" x2="337.21" y2="1005" stroke-width="2.8" stroke-linecap="butt"/>
<line x1="364.08" y1="1014" x2="364.08" y2="996" stroke-width="2.8" stroke-linecap="butt"/>
<line x1="390.94" y1="1014" x2="390.94" y2="1005" stroke-width="2.8" stroke-linecap="butt"/>
<line x1="417.8" y1="1014" x2="417.8" y2="996" stroke-width="2.8" stroke-linecap="butt"/>
<line x1="202.9" y1="1014" x2="184.9" y2="1014" stroke-width="2.8" stroke-linecap="butt"/>
<line x1="202.9" y1="1046.04" x2="193.9" y2="1046.04" stroke-width="2.8" stroke-linecap="butt"/>
<line x1="202.9" y1="1078.08" x2="184.9" y2="1078.08" stroke-width="2.8" stroke-linecap="butt"/>
<line x1="202.9" y1="1110.12" x2="193.9" y2="1110.12" stroke-width="2.8" stroke-linecap="butt"/>
<line x1="202.9" y1="1142.16" x2="184.9" y2="1142.16" stroke-width="2.8" stroke-linecap="butt"/>
<line x1="202.9" y1="1174.2" x2="193.9" y2="1174.2" stroke-width="2.8" stroke-linecap="butt"/>
<line x1="202.9" y1="1206.24" x2="184.9" y2="1206.24" stroke-width="2.8" stroke-linecap="butt"/>
<line x1="202.9" y1="1238.28" x2="193.9" y2="1238.28" stroke-width="2.8" stroke-linecap="butt"/>
<line x1="202.9" y1="1270.32" x2="184.9" y2="1270.32" stroke-width="2.8" stroke-linecap="butt"/>
<line x1="202.9" y1="1302.36" x2="193.9" y2="1302.36" stroke-width="2.8" stroke-linecap="butt"/>
<line x1="202.9" y1="1334.4" x2="184.9" y2="1334.4" stroke-width="2.8" stroke-linecap="butt"/>
<text stroke="none" fill="#000" transform="translate(202.9,980.8) scale(0.94,1)" font-size="34" text-anchor="middle" font-weight="normal" font-family='"Liberation Sans", sans-serif' >40</text>
<text stroke="none" fill="#000" transform="translate(256.62,980.8) scale(0.94,1)" font-size="34" text-anchor="middle" font-weight="normal" font-family='"Liberation Sans", sans-serif' >50</text>
<text stroke="none" fill="#000" transform="translate(310.35,980.8) scale(0.94,1)" font-size="34" text-anchor="middle" font-weight="normal" font-family='"Liberation Sans", sans-serif' >60</text>
<text stroke="none" fill="#000" transform="translate(364.08,980.8) scale(0.94,1)" font-size="34" text-anchor="middle" font-weight="normal" font-family='"Liberation Sans", sans-serif' >70</text>
<text stroke="none" fill="#000" transform="translate(417.8,980.8) scale(0.94,1)" font-size="34" text-anchor="middle" font-weight="normal" font-family='"Liberation Sans", sans-serif' >80</text>
<text stroke="none" fill="#000" transform="translate(169.9,1023.6) scale(0.94,1)" font-size="34" text-anchor="end" font-weight="normal" font-family='"Liberation Sans", sans-serif' >0</text>
<text stroke="none" fill="#000" transform="translate(169.9,1087.68) scale(0.94,1)" font-size="34" text-anchor="end" font-weight="normal" font-family='"Liberation Sans", sans-serif' >500</text>
<text stroke="none" fill="#000" transform="translate(169.9,1151.76) scale(0.94,1)" font-size="34" text-anchor="end" font-weight="normal" font-family='"Liberation Sans", sans-serif' >1000</text>
<text stroke="none" fill="#000" transform="translate(169.9,1215.84) scale(0.94,1)" font-size="34" text-anchor="end" font-weight="normal" font-family='"Liberation Sans", sans-serif' >1500</text>
<text stroke="none" fill="#000" transform="translate(169.9,1279.92) scale(0.94,1)" font-size="34" text-anchor="end" font-weight="normal" font-family='"Liberation Sans", sans-serif' >2000</text>
<text stroke="none" fill="#000" transform="translate(169.9,1344) scale(0.94,1)" font-size="34" text-anchor="end" font-weight="normal" font-family='"Liberation Sans", sans-serif' >2500</text>
<line x1="547.7" y1="1118.2" x2="691.6" y2="1118.2" stroke-width="3" stroke-linecap="square"/>
<line x1="547.7" y1="1333.3" x2="691.6" y2="1333.3" stroke-width="3" stroke-linecap="square"/>
<line x1="547.7" y1="1118.2" x2="547.7" y2="1333.3" stroke-width="3" stroke-linecap="square"/>
<line x1="691.6" y1="1118.2" x2="691.6" y2="1333.3" stroke-width="3" stroke-linecap="square"/>
<line x1="547.7" y1="1118.2" x2="547.7" y2="1101.2" stroke-width="2.8" stroke-linecap="butt"/>
<line x1="571.68" y1="1118.2" x2="571.68" y2="1109.2" stroke-width="2.8" stroke-linecap="butt"/>
<line x1="595.67" y1="1118.2" x2="595.67" y2="1101.2" stroke-width="2.8" stroke-linecap="butt"/>
<line x1="619.65" y1="1118.2" x2="619.65" y2="1109.2" stroke-width="2.8" stroke-linecap="butt"/>
<line x1="643.63" y1="1118.2" x2="643.63" y2="1101.2" stroke-width="2.8" stroke-linecap="butt"/>
<line x1="667.62" y1="1118.2" x2="667.62" y2="1109.2" stroke-width="2.8" stroke-linecap="butt"/>
<line x1="691.6" y1="1118.2" x2="691.6" y2="1101.2" stroke-width="2.8" stroke-linecap="butt"/>
<line x1="547.7" y1="1118.2" x2="530.7" y2="1118.2" stroke-width="2.8" stroke-linecap="butt"/>
<line x1="547.7" y1="1154.05" x2="538.7" y2="1154.05" stroke-width="2.8" stroke-linecap="butt"/>
<line x1="547.7" y1="1189.9" x2="530.7" y2="1189.9" stroke-width="2.8" stroke-linecap="butt"/>
<line x1="547.7" y1="1225.75" x2="538.7" y2="1225.75" stroke-width="2.8" stroke-linecap="butt"/>
<line x1="547.7" y1="1261.6" x2="530.7" y2="1261.6" stroke-width="2.8" stroke-linecap="butt"/>
<line x1="547.7" y1="1297.45" x2="538.7" y2="1297.45" stroke-width="2.8" stroke-linecap="butt"/>
<line x1="547.7" y1="1333.3" x2="530.7" y2="1333.3" stroke-width="2.8" stroke-linecap="butt"/>
<text stroke="none" fill="#000" transform="translate(547.7,1084.6) scale(0.94,1)" font-size="34" text-anchor="middle" font-weight="normal" font-family='"Liberation Sans", sans-serif' >50</text>
<text stroke="none" fill="#000" transform="translate(595.67,1084.6) scale(0.94,1)" font-size="34" text-anchor="middle" font-weight="normal" font-family='"Liberation Sans", sans-serif' >55</text>
<text stroke="none" fill="#000" transform="translate(643.63,1084.6) scale(0.94,1)" font-size="34" text-anchor="middle" font-weight="normal" font-family='"Liberation Sans", sans-serif' >60</text>
<text stroke="none" fill="#000" transform="translate(691.6,1084.6) scale(0.94,1)" font-size="34" text-anchor="middle" font-weight="normal" font-family='"Liberation Sans", sans-serif' >65</text>
<text stroke="none" fill="#000" transform="translate(514.7,1127.8) scale(0.94,1)" font-size="34" text-anchor="end" font-weight="normal" font-family='"Liberation Sans", sans-serif' >1000</text>
<text stroke="none" fill="#000" transform="translate(514.7,1199.5) scale(0.94,1)" font-size="34" text-anchor="end" font-weight="normal" font-family='"Liberation Sans", sans-serif' >1500</text>
<text stroke="none" fill="#000" transform="translate(514.7,1271.2) scale(0.94,1)" font-size="34" text-anchor="end" font-weight="normal" font-family='"Liberation Sans", sans-serif' >2000</text>
<text stroke="none" fill="#000" transform="translate(514.7,1342.9) scale(0.94,1)" font-size="34" text-anchor="end" font-weight="normal" font-family='"Liberation Sans", sans-serif' >2500</text>
<line x1="863.7" y1="1013.6" x2="1080.4" y2="1013.6" stroke-width="3" stroke-linecap="square"/>
<line x1="863.7" y1="1334.8" x2="1080.4" y2="1334.8" stroke-width="3" stroke-linecap="square"/>
<line x1="863.7" y1="1013.6" x2="863.7" y2="1334.8" stroke-width="3" stroke-linecap="square"/>
<line x1="1080.4" y1="1013.6" x2="1080.4" y2="1334.8" stroke-width="3" stroke-linecap="square"/>
<line x1="863.7" y1="1013.6" x2="863.7" y2="995.6" stroke-width="2.8" stroke-linecap="butt"/>
<line x1="890.76" y1="1013.6" x2="890.76" y2="1004.6" stroke-width="2.8" stroke-linecap="butt"/>
<line x1="917.83" y1="1013.6" x2="917.83" y2="995.6" stroke-width="2.8" stroke-linecap="butt"/>
<line x1="944.89" y1="1013.6" x2="944.89" y2="1004.6" stroke-width="2.8" stroke-linecap="butt"/>
<line x1="971.95" y1="1013.6" x2="971.95" y2="995.6" stroke-width="2.8" stroke-linecap="butt"/>
<line x1="999.01" y1="1013.6" x2="999.01" y2="1004.6" stroke-width="2.8" stroke-linecap="butt"/>
<line x1="1026.08" y1="1013.6" x2="1026.08" y2="995.6" stroke-width="2.8" stroke-linecap="butt"/>
<line x1="1053.14" y1="1013.6" x2="1053.14" y2="1004.6" stroke-width="2.8" stroke-linecap="butt"/>
<line x1="1080.4" y1="1013.6" x2="1080.4" y2="995.6" stroke-width="2.8" stroke-linecap="butt"/>
<line x1="863.7" y1="1013.6" x2="845.7" y2="1013.6" stroke-width="2.8" stroke-linecap="butt"/>
<line x1="863.7" y1="1045.72" x2="854.7" y2="1045.72" stroke-width="2.8" stroke-linecap="butt"/>
<line x1="863.7" y1="1077.84" x2="845.7" y2="1077.84" stroke-width="2.8" stroke-linecap="butt"/>
<line x1="863.7" y1="1109.96" x2="854.7" y2="1109.96" stroke-width="2.8" stroke-linecap="butt"/>
<line x1="863.7" y1="1142.08" x2="845.7" y2="1142.08" stroke-width="2.8" stroke-linecap="butt"/>
<line x1="863.7" y1="1174.2" x2="854.7" y2="1174.2" stroke-width="2.8" stroke-linecap="butt"/>
<line x1="863.7" y1="1206.32" x2="845.7" y2="1206.32" stroke-width="2.8" stroke-linecap="butt"/>
<line x1="863.7" y1="1238.44" x2="854.7" y2="1238.44" stroke-width="2.8" stroke-linecap="butt"/>
<line x1="863.7" y1="1270.56" x2="845.7" y2="1270.56" stroke-width="2.8" stroke-linecap="butt"/>
<line x1="863.7" y1="1302.68" x2="854.7" y2="1302.68" stroke-width="2.8" stroke-linecap="butt"/>
<line x1="863.7" y1="1334.8" x2="845.7" y2="1334.8" stroke-width="2.8" stroke-linecap="butt"/>
<text stroke="none" fill="#000" transform="translate(863.7,980.7) scale(0.94,1)" font-size="34" text-anchor="middle" font-weight="normal" font-family='"Liberation Sans", sans-serif' >0.0</text>
<text stroke="none" fill="#000" transform="translate(917.83,980.7) scale(0.94,1)" font-size="34" text-anchor="middle" font-weight="normal" font-family='"Liberation Sans", sans-serif' >0.2</text>
<text stroke="none" fill="#000" transform="translate(971.95,980.7) scale(0.94,1)" font-size="34" text-anchor="middle" font-weight="normal" font-family='"Liberation Sans", sans-serif' >0.4</text>
<text stroke="none" fill="#000" transform="translate(1026.08,980.7) scale(0.94,1)" font-size="34" text-anchor="middle" font-weight="normal" font-family='"Liberation Sans", sans-serif' >0.6</text>
<text stroke="none" fill="#000" transform="translate(1080.2,980.7) scale(0.94,1)" font-size="34" text-anchor="middle" font-weight="normal" font-family='"Liberation Sans", sans-serif' >0.8</text>
<text stroke="none" fill="#000" transform="translate(830.7,1023.2) scale(0.94,1)" font-size="34" text-anchor="end" font-weight="normal" font-family='"Liberation Sans", sans-serif' >0</text>
<text stroke="none" fill="#000" transform="translate(830.7,1087.44) scale(0.94,1)" font-size="34" text-anchor="end" font-weight="normal" font-family='"Liberation Sans", sans-serif' >500</text>
<text stroke="none" fill="#000" transform="translate(830.7,1151.68) scale(0.94,1)" font-size="34" text-anchor="end" font-weight="normal" font-family='"Liberation Sans", sans-serif' >1000</text>
<text stroke="none" fill="#000" transform="translate(830.7,1215.92) scale(0.94,1)" font-size="34" text-anchor="end" font-weight="normal" font-family='"Liberation Sans", sans-serif' >1500</text>
<text stroke="none" fill="#000" transform="translate(830.7,1280.16) scale(0.94,1)" font-size="34" text-anchor="end" font-weight="normal" font-family='"Liberation Sans", sans-serif' >2000</text>
<text stroke="none" fill="#000" transform="translate(830.7,1344.4) scale(0.94,1)" font-size="34" text-anchor="end" font-weight="normal" font-family='"Liberation Sans", sans-serif' >2500</text>
<line x1="1208.9" y1="1117.9" x2="1352.5" y2="1117.9" stroke-width="3" stroke-linecap="square"/>
<line x1="1208.9" y1="1333.3" x2="1352.5" y2="1333.3" stroke-width="3" stroke-linecap="square"/>
<line x1="1208.9" y1="1117.9" x2="1208.9" y2="1333.3" stroke-width="3" stroke-linecap="square"/>
<line x1="1352.5" y1="1117.9" x2="1352.5" y2="1333.3" stroke-width="3" stroke-linecap="square"/>
<line x1="1208.9" y1="1117.9" x2="1208.9" y2="1100.9" stroke-width="2.8" stroke-linecap="butt"/>
<line x1="1244.8" y1="1117.9" x2="1244.8" y2="1108.9" stroke-width="2.8" stroke-linecap="butt"/>
<line x1="1280.7" y1="1117.9" x2="1280.7" y2="1100.9" stroke-width="2.8" stroke-linecap="butt"/>
<line x1="1316.6" y1="1117.9" x2="1316.6" y2="1108.9" stroke-width="2.8" stroke-linecap="butt"/>
<line x1="1352.5" y1="1117.9" x2="1352.5" y2="1100.9" stroke-width="2.8" stroke-linecap="butt"/>
<line x1="1208.9" y1="1117.9" x2="1191.9" y2="1117.9" stroke-width="2.8" stroke-linecap="butt"/>
<line x1="1208.9" y1="1153.8" x2="1199.9" y2="1153.8" stroke-width="2.8" stroke-linecap="butt"/>
<line x1="1208.9" y1="1189.7" x2="1191.9" y2="1189.7" stroke-width="2.8" stroke-linecap="butt"/>
<line x1="1208.9" y1="1225.6" x2="1199.9" y2="1225.6" stroke-width="2.8" stroke-linecap="butt"/>
<line x1="1208.9" y1="1261.5" x2="1191.9" y2="1261.5" stroke-width="2.8" stroke-linecap="butt"/>
<line x1="1208.9" y1="1297.4" x2="1199.9" y2="1297.4" stroke-width="2.8" stroke-linecap="butt"/>
<line x1="1208.9" y1="1333.3" x2="1191.9" y2="1333.3" stroke-width="2.8" stroke-linecap="butt"/>
<text stroke="none" fill="#000" transform="translate(1208.9,1084.3) scale(0.94,1)" font-size="34" text-anchor="middle" font-weight="normal" font-family='"Liberation Sans", sans-serif' >0.0</text>
<text stroke="none" fill="#000" transform="translate(1280.7,1084.3) scale(0.94,1)" font-size="34" text-anchor="middle" font-weight="normal" font-family='"Liberation Sans", sans-serif' >0.4</text>
<text stroke="none" fill="#000" transform="translate(1352.5,1084.3) scale(0.94,1)" font-size="34" text-anchor="middle" font-weight="normal" font-family='"Liberation Sans", sans-serif' >0.8</text>
<text stroke="none" fill="#000" transform="translate(1175.9,1127.5) scale(0.94,1)" font-size="34" text-anchor="end" font-weight="normal" font-family='"Liberation Sans", sans-serif' >1000</text>
<text stroke="none" fill="#000" transform="translate(1175.9,1199.3) scale(0.94,1)" font-size="34" text-anchor="end" font-weight="normal" font-family='"Liberation Sans", sans-serif' >1500</text>
<text stroke="none" fill="#000" transform="translate(1175.9,1271.1) scale(0.94,1)" font-size="34" text-anchor="end" font-weight="normal" font-family='"Liberation Sans", sans-serif' >2000</text>
<text stroke="none" fill="#000" transform="translate(1175.9,1342.9) scale(0.94,1)" font-size="34" text-anchor="end" font-weight="normal" font-family='"Liberation Sans", sans-serif' >2500</text>
</g>
<g stroke="#000" fill="none" stroke-width="1.7" stroke-linejoin="round">
<line x1="411.3" y1="235.5" x2="419.7" y2="235.5"/>
<polyline points="420.7,228 436.5,180.2 441.8,180.2"/>
<line x1="404.3" y1="395.6" x2="440.1" y2="395.6"/>
<line x1="1074.2" y1="235.5" x2="1080.4" y2="235.5"/>
<polyline points="1082.2,232.6 1098.8,180.2 1104.2,180.2"/>
<line x1="1072.6" y1="395.2" x2="1102.6" y2="395.2"/>
<line x1="413" y1="730.2" x2="417.9" y2="730.2"/>
<polyline points="420.5,730 437.3,674.8 441.8,674.8"/>
<line x1="417.9" y1="892.9" x2="440.2" y2="892.9"/>
<line x1="1073.9" y1="731.7" x2="1080.4" y2="731.7"/>
<polyline points="1082.2,722.2 1097.3,674.5 1102.4,674.5"/>
<line x1="1080.4" y1="892.6" x2="1101" y2="892.6"/>
<line x1="413" y1="1141.6" x2="417.8" y2="1141.6"/>
<polyline points="419.1,1142.3 436.9,1115.8 441.8,1115.8"/>
<line x1="417.8" y1="1333.9" x2="441.2" y2="1333.9"/>
<line x1="1073.8" y1="1141.6" x2="1080.4" y2="1141.6"/>
<polyline points="1082.2,1139.6 1097.8,1117.3 1104,1117.3"/>
<line x1="1080.4" y1="1334.6" x2="1100.6" y2="1334.6"/>
</g>
<polyline points="331.82,133.68 324.84,140.7 308.2,183.88 325.38,237.07 267.95,343.43 272.78,368.54 265.26,378.96 271.17,383.85 262.04,391.3" fill="none" stroke="#000" stroke-width="1.5" stroke-linejoin="round"/>
<polygon points="337.55,135.86 334.19,138.95 329.45,138.95 326.09,135.86 326.09,131.5 329.45,128.41 334.19,128.41 337.55,131.5" fill="#3cba3c" stroke="#000" stroke-width="1.6"/>
<polygon points="330.57,142.88 327.21,145.97 322.47,145.97 319.11,142.88 319.11,138.52 322.47,135.43 327.21,135.43 330.57,138.52" fill="#3cba3c" stroke="#000" stroke-width="1.6"/>
<polygon points="313.93,186.07 310.58,189.15 305.83,189.15 302.47,186.07 302.47,181.7 305.83,178.61 310.58,178.61 313.93,181.7" fill="#3cba3c" stroke="#000" stroke-width="1.6"/>
<polygon points="331.11,239.25 327.75,242.34 323.01,242.34 319.65,239.25 319.65,234.88 323.01,231.8 327.75,231.8 331.11,234.88" fill="#3cba3c" stroke="#000" stroke-width="1.6"/>
<polygon points="273.67,345.62 270.32,348.7 265.57,348.7 262.22,345.62 262.22,341.25 265.57,338.16 270.32,338.16 273.67,341.25" fill="#3cba3c" stroke="#000" stroke-width="1.6"/>
<polygon points="278.51,370.72 275.15,373.81 270.4,373.81 267.05,370.72 267.05,366.35 270.4,363.27 275.15,363.27 278.51,366.35" fill="#3cba3c" stroke="#000" stroke-width="1.6"/>
<polygon points="270.99,381.14 267.64,384.23 262.89,384.23 259.53,381.14 259.53,376.78 262.89,373.69 267.64,373.69 270.99,376.78" fill="#3cba3c" stroke="#000" stroke-width="1.6"/>
<polygon points="276.9,386.04 273.54,389.12 268.79,389.12 265.44,386.04 265.44,381.67 268.79,378.58 273.54,378.58 276.9,381.67" fill="#3cba3c" stroke="#000" stroke-width="1.6"/>
<polygon points="267.77,393.48 264.42,396.57 259.67,396.57 256.31,393.48 256.31,389.12 259.67,386.03 264.42,386.03 267.77,389.12" fill="#3cba3c" stroke="#000" stroke-width="1.6"/>
<polyline points="671.43,181.1 568.63,325.57 576.32,359.66 564.79,373.82 574.4,379.31 558.07,388.55" fill="none" stroke="#000" stroke-width="1.5" stroke-linejoin="round"/>
<polygon points="676.47,183.02 673.51,185.74 669.34,185.74 666.39,183.02 666.39,179.18 669.34,176.46 673.51,176.46 676.47,179.18" fill="#3cba3c" stroke="#000" stroke-width="1.6"/>
<polygon points="573.68,327.49 570.72,330.2 566.55,330.2 563.59,327.49 563.59,323.65 566.55,320.93 570.72,320.93 573.68,323.65" fill="#3cba3c" stroke="#000" stroke-width="1.6"/>
<polygon points="581.36,361.58 578.41,364.3 574.23,364.3 571.28,361.58 571.28,357.74 574.23,355.02 578.41,355.02 581.36,357.74" fill="#3cba3c" stroke="#000" stroke-width="1.6"/>
<polygon points="569.83,375.74 566.88,378.46 562.7,378.46 559.75,375.74 559.75,371.9 562.7,369.18 566.88,369.18 569.83,371.9" fill="#3cba3c" stroke="#000" stroke-width="1.6"/>
<polygon points="579.44,381.23 576.49,383.95 572.31,383.95 569.36,381.23 569.36,377.39 572.31,374.67 576.49,374.67 579.44,377.39" fill="#3cba3c" stroke="#000" stroke-width="1.6"/>
<polygon points="563.11,390.48 560.16,393.19 555.98,393.19 553.03,390.48 553.03,386.63 555.98,383.92 560.16,383.92 563.11,386.63" fill="#3cba3c" stroke="#000" stroke-width="1.6"/>
<polyline points="342.65,574.13 396.94,580.39 299.11,612.15 283.52,652.59 295.89,691.74 259.34,771.96 327.06,812.4 296.42,835.82 270.62,844.81 262.56,847.37 319,850.74" fill="none" stroke="#000" stroke-width="1.5" stroke-linejoin="round"/>
<polygon points="348.19,576.24 344.95,579.23 340.35,579.23 337.11,576.24 337.11,572.02 340.35,569.03 344.95,569.03 348.19,572.02" fill="#3cba3c" stroke="#000" stroke-width="1.6"/>
<polygon points="402.48,582.5 399.23,585.49 394.64,585.49 391.39,582.5 391.39,578.27 394.64,575.29 399.23,575.29 402.48,578.27" fill="#3cba3c" stroke="#000" stroke-width="1.6"/>
<polygon points="304.66,614.27 301.41,617.25 296.82,617.25 293.57,614.27 293.57,610.04 296.82,607.05 301.41,607.05 304.66,610.04" fill="#3cba3c" stroke="#000" stroke-width="1.6"/>
<polygon points="289.07,654.7 285.82,657.69 281.23,657.69 277.98,654.7 277.98,650.48 281.23,647.49 285.82,647.49 289.07,650.48" fill="#3cba3c" stroke="#000" stroke-width="1.6"/>
<polygon points="301.43,693.85 298.18,696.84 293.59,696.84 290.34,693.85 290.34,689.63 293.59,686.64 298.18,686.64 301.43,689.63" fill="#3cba3c" stroke="#000" stroke-width="1.6"/>
<polygon points="264.88,774.07 261.63,777.06 257.04,777.06 253.79,774.07 253.79,769.85 257.04,766.86 261.63,766.86 264.88,769.85" fill="#3cba3c" stroke="#000" stroke-width="1.6"/>
<polygon points="332.61,814.51 329.36,817.5 324.77,817.5 321.52,814.51 321.52,810.28 324.77,807.3 329.36,807.3 332.61,810.28" fill="#3cba3c" stroke="#000" stroke-width="1.6"/>
<polygon points="301.97,837.93 298.72,840.92 294.13,840.92 290.88,837.93 290.88,833.71 294.13,830.72 298.72,830.72 301.97,833.71" fill="#3cba3c" stroke="#000" stroke-width="1.6"/>
<polygon points="276.17,846.92 272.92,849.91 268.33,849.91 265.08,846.92 265.08,842.69 268.33,839.71 272.92,839.71 276.17,842.69" fill="#3cba3c" stroke="#000" stroke-width="1.6"/>
<polygon points="268.11,849.49 264.86,852.47 260.27,852.47 257.02,849.49 257.02,845.26 260.27,842.27 264.86,842.27 268.11,845.26" fill="#3cba3c" stroke="#000" stroke-width="1.6"/>
<polygon points="324.54,852.86 321.3,855.84 316.7,855.84 313.46,852.86 313.46,848.63 316.7,845.64 321.3,845.64 324.54,848.63" fill="#3cba3c" stroke="#000" stroke-width="1.6"/>
<polyline points="553.46,728.66 675.38,782.76 619.7,814.92 572.66,825.79 560.18,829.7 661.94,834.26" fill="none" stroke="#000" stroke-width="1.5" stroke-linejoin="round"/>
<polygon points="558.5,730.58 555.55,733.29 551.37,733.29 548.42,730.58 548.42,726.73 551.37,724.02 555.55,724.02 558.5,726.73" fill="#3cba3c" stroke="#000" stroke-width="1.6"/>
<polygon points="680.42,784.68 677.47,787.4 673.29,787.4 670.34,784.68 670.34,780.84 673.29,778.13 677.47,778.13 680.42,780.84" fill="#3cba3c" stroke="#000" stroke-width="1.6"/>
<polygon points="624.74,816.84 621.79,819.56 617.61,819.56 614.66,816.84 614.66,813 617.61,810.29 621.79,810.29 624.74,813" fill="#3cba3c" stroke="#000" stroke-width="1.6"/>
<polygon points="577.7,827.71 574.75,830.43 570.57,830.43 567.62,827.71 567.62,823.87 570.57,821.15 574.75,821.15 577.7,823.87" fill="#3cba3c" stroke="#000" stroke-width="1.6"/>
<polygon points="565.22,831.62 562.27,834.34 558.09,834.34 555.14,831.62 555.14,827.78 558.09,825.06 562.27,825.06 565.22,827.78" fill="#3cba3c" stroke="#000" stroke-width="1.6"/>
<polygon points="666.98,836.18 664.03,838.9 659.85,838.9 656.9,836.18 656.9,832.34 659.85,829.63 664.03,829.63 666.98,832.34" fill="#3cba3c" stroke="#000" stroke-width="1.6"/>
<polyline points="364.61,1014 326.47,1019 293.7,1026.3 284.02,1044.89 290.47,1077.05 291.55,1161 270.59,1224.82 300.68,1256.35 269.52,1275.57 275.97,1281.21 271.13,1286.21 260.39,1289.42" fill="none" stroke="#000" stroke-width="1.5" stroke-linejoin="round"/>
<polygon points="369.88,1016.01 366.79,1018.84 362.43,1018.84 359.35,1016.01 359.35,1011.99 362.43,1009.16 366.79,1009.16 369.88,1011.99" fill="#3cba3c" stroke="#000" stroke-width="1.6"/>
<polygon points="331.73,1021.01 328.65,1023.84 324.29,1023.84 321.2,1021.01 321.2,1016.99 324.29,1014.15 328.65,1014.15 331.73,1016.99" fill="#3cba3c" stroke="#000" stroke-width="1.6"/>
<polygon points="298.96,1028.31 295.88,1031.15 291.51,1031.15 288.43,1028.31 288.43,1024.3 291.51,1021.46 295.88,1021.46 298.96,1024.3" fill="#3cba3c" stroke="#000" stroke-width="1.6"/>
<polygon points="289.29,1046.89 286.21,1049.73 281.84,1049.73 278.76,1046.89 278.76,1042.88 281.84,1040.04 286.21,1040.04 289.29,1042.88" fill="#3cba3c" stroke="#000" stroke-width="1.6"/>
<polygon points="295.74,1079.06 292.65,1081.9 288.29,1081.9 285.21,1079.06 285.21,1075.05 288.29,1072.21 292.65,1072.21 295.74,1075.05" fill="#3cba3c" stroke="#000" stroke-width="1.6"/>
<polygon points="296.81,1163.01 293.73,1165.84 289.36,1165.84 286.28,1163.01 286.28,1158.99 289.36,1156.15 293.73,1156.15 296.81,1158.99" fill="#3cba3c" stroke="#000" stroke-width="1.6"/>
<polygon points="275.86,1226.83 272.77,1229.67 268.41,1229.67 265.33,1226.83 265.33,1222.82 268.41,1219.98 272.77,1219.98 275.86,1222.82" fill="#3cba3c" stroke="#000" stroke-width="1.6"/>
<polygon points="305.95,1258.36 302.86,1261.2 298.5,1261.2 295.41,1258.36 295.41,1254.34 298.5,1251.51 302.86,1251.51 305.95,1254.34" fill="#3cba3c" stroke="#000" stroke-width="1.6"/>
<polygon points="274.79,1277.58 271.7,1280.42 267.34,1280.42 264.25,1277.58 264.25,1273.57 267.34,1270.73 271.7,1270.73 274.79,1273.57" fill="#3cba3c" stroke="#000" stroke-width="1.6"/>
<polygon points="281.23,1283.22 278.15,1286.06 273.78,1286.06 270.7,1283.22 270.7,1279.21 273.78,1276.37 278.15,1276.37 281.23,1279.21" fill="#3cba3c" stroke="#000" stroke-width="1.6"/>
<polygon points="276.4,1288.22 273.31,1291.06 268.95,1291.06 265.86,1288.22 265.86,1284.21 268.95,1281.37 273.31,1281.37 276.4,1284.21" fill="#3cba3c" stroke="#000" stroke-width="1.6"/>
<polygon points="265.65,1291.42 262.57,1294.26 258.2,1294.26 255.12,1291.42 255.12,1287.41 258.2,1284.57 262.57,1284.57 265.65,1287.41" fill="#3cba3c" stroke="#000" stroke-width="1.6"/>
<polyline points="611.02,1139.14 573.6,1210.55 628.28,1247.26 573.6,1268.63 583.2,1275.94 576.48,1279.38 555.37,1283.25" fill="none" stroke="#000" stroke-width="1.5" stroke-linejoin="round"/>
<polygon points="616.06,1141.06 613.1,1143.77 608.93,1143.77 605.98,1141.06 605.98,1137.22 608.93,1134.5 613.1,1134.5 616.06,1137.22" fill="#3cba3c" stroke="#000" stroke-width="1.6"/>
<polygon points="578.64,1212.47 575.69,1215.19 571.51,1215.19 568.56,1212.47 568.56,1208.63 571.51,1205.91 575.69,1205.91 578.64,1208.63" fill="#3cba3c" stroke="#000" stroke-width="1.6"/>
<polygon points="633.32,1249.18 630.37,1251.9 626.2,1251.9 623.24,1249.18 623.24,1245.34 626.2,1242.62 630.37,1242.62 633.32,1245.34" fill="#3cba3c" stroke="#000" stroke-width="1.6"/>
<polygon points="578.64,1270.55 575.69,1273.26 571.51,1273.26 568.56,1270.55 568.56,1266.71 571.51,1263.99 575.69,1263.99 578.64,1266.71" fill="#3cba3c" stroke="#000" stroke-width="1.6"/>
<polygon points="588.24,1277.86 585.28,1280.58 581.11,1280.58 578.15,1277.86 578.15,1274.02 581.11,1271.3 585.28,1271.3 588.24,1274.02" fill="#3cba3c" stroke="#000" stroke-width="1.6"/>
<polygon points="581.52,1281.3 578.57,1284.02 574.39,1284.02 571.44,1281.3 571.44,1277.46 574.39,1274.74 578.57,1274.74 581.52,1277.46" fill="#3cba3c" stroke="#000" stroke-width="1.6"/>
<polygon points="560.42,1285.17 557.46,1287.89 553.29,1287.89 550.33,1285.17 550.33,1281.33 553.29,1278.62 557.46,1278.62 560.42,1281.33" fill="#3cba3c" stroke="#000" stroke-width="1.6"/>
<polyline points="915.04,133.68 906.65,140.7 918.56,183.88 925.33,237.07 942.66,343.43 947.53,368.54 944.28,378.96 954.03,383.85 952.41,391.94" fill="none" stroke="#000" stroke-width="1.5" stroke-linejoin="round"/>
<polyline points="913.69,133.68 929.12,140.7 907.46,183.88 923.71,237.07 892.3,343.43 881.2,368.54 879.85,378.96 879.3,383.85 884.99,391.94" fill="none" stroke="#000" stroke-width="1.5" stroke-linejoin="round"/>
<polyline points="919.92,133.68 912.34,140.7 947.26,183.88 952.41,237.07 980.29,343.43 985.98,368.54 973.8,378.96 993.29,383.85 993.29,391.94" fill="none" stroke="#000" stroke-width="1.5" stroke-linejoin="round"/>
<polygon points="920.4,135.72 917.26,138.61 912.82,138.61 909.68,135.72 909.68,131.64 912.82,128.75 917.26,128.75 920.4,131.64" fill="#f2f07e" stroke="#000" stroke-width="1.6"/>
<polygon points="912.01,142.74 908.87,145.63 904.43,145.63 901.29,142.74 901.29,138.66 904.43,135.77 908.87,135.77 912.01,138.66" fill="#f2f07e" stroke="#000" stroke-width="1.6"/>
<polygon points="923.92,185.93 920.78,188.81 916.34,188.81 913.2,185.93 913.2,181.84 916.34,178.95 920.78,178.95 923.92,181.84" fill="#f2f07e" stroke="#000" stroke-width="1.6"/>
<polygon points="930.69,239.11 927.55,242 923.11,242 919.97,239.11 919.97,235.02 923.11,232.14 927.55,232.14 930.69,235.02" fill="#f2f07e" stroke="#000" stroke-width="1.6"/>
<polygon points="948.02,345.48 944.88,348.36 940.44,348.36 937.3,345.48 937.3,341.39 940.44,338.5 944.88,338.5 948.02,341.39" fill="#f2f07e" stroke="#000" stroke-width="1.6"/>
<polygon points="952.89,370.58 949.75,373.47 945.31,373.47 942.17,370.58 942.17,366.49 945.31,363.61 949.75,363.61 952.89,366.49" fill="#f2f07e" stroke="#000" stroke-width="1.6"/>
<polygon points="949.64,381 946.5,383.89 942.06,383.89 938.92,381 938.92,376.92 942.06,374.03 946.5,374.03 949.64,376.92" fill="#f2f07e" stroke="#000" stroke-width="1.6"/>
<polygon points="959.39,385.89 956.25,388.78 951.81,388.78 948.67,385.89 948.67,381.81 951.81,378.92 956.25,378.92 959.39,381.81" fill="#f2f07e" stroke="#000" stroke-width="1.6"/>
<polygon points="957.76,393.98 954.63,396.87 950.19,396.87 947.05,393.98 947.05,389.89 950.19,387.01 954.63,387.01 957.76,389.89" fill="#f2f07e" stroke="#000" stroke-width="1.6"/>
<polygon points="919.92,129.08 925.92,138.28 913.92,138.28" fill="#3144a4" stroke="#000" stroke-width="1.6" stroke-linejoin="miter"/>
<polygon points="912.34,136.1 918.34,145.3 906.34,145.3" fill="#3144a4" stroke="#000" stroke-width="1.6" stroke-linejoin="miter"/>
<polygon points="947.26,179.28 953.26,188.48 941.26,188.48" fill="#3144a4" stroke="#000" stroke-width="1.6" stroke-linejoin="miter"/>
<polygon points="952.41,232.47 958.41,241.67 946.41,241.67" fill="#3144a4" stroke="#000" stroke-width="1.6" stroke-linejoin="miter"/>
<polygon points="980.29,338.83 986.29,348.03 974.29,348.03" fill="#3144a4" stroke="#000" stroke-width="1.6" stroke-linejoin="miter"/>
<polygon points="985.98,363.94 991.98,373.14 979.98,373.14" fill="#3144a4" stroke="#000" stroke-width="1.6" stroke-linejoin="miter"/>
<polygon points="973.8,374.36 979.8,383.56 967.8,383.56" fill="#3144a4" stroke="#000" stroke-width="1.6" stroke-linejoin="miter"/>
<polygon points="993.29,379.25 999.29,388.45 987.29,388.45" fill="#3144a4" stroke="#000" stroke-width="1.6" stroke-linejoin="miter"/>
<polygon points="993.29,387.34 999.29,396.54 987.29,396.54" fill="#3144a4" stroke="#000" stroke-width="1.6" stroke-linejoin="miter"/>
<rect x="908.59" y="128.58" width="10.2" height="10.2" fill="#e81d2f" stroke="#000" stroke-width="1.8"/>
<rect x="924.02" y="135.6" width="10.2" height="10.2" fill="#e81d2f" stroke="#000" stroke-width="1.8"/>
<rect x="902.36" y="178.78" width="10.2" height="10.2" fill="#e81d2f" stroke="#000" stroke-width="1.8"/>
<rect x="918.61" y="231.97" width="10.2" height="10.2" fill="#e81d2f" stroke="#000" stroke-width="1.8"/>
<rect x="887.2" y="338.33" width="10.2" height="10.2" fill="#e81d2f" stroke="#000" stroke-width="1.8"/>
<rect x="876.1" y="363.44" width="10.2" height="10.2" fill="#e81d2f" stroke="#000" stroke-width="1.8"/>
<rect x="874.75" y="373.86" width="10.2" height="10.2" fill="#e81d2f" stroke="#000" stroke-width="1.8"/>
<rect x="874.2" y="378.75" width="10.2" height="10.2" fill="#e81d2f" stroke="#000" stroke-width="1.8"/>
<rect x="879.89" y="386.84" width="10.2" height="10.2" fill="#e81d2f" stroke="#000" stroke-width="1.8"/>
<polyline points="1249.9,181 1261.56,325.4 1265.14,359.48 1262.27,373.63 1268.37,380.27 1268.37,391.25" fill="none" stroke="#000" stroke-width="1.5" stroke-linejoin="round"/>
<polyline points="1249.36,181 1228.55,325.4 1220.84,359.48 1219.76,379.12 1219.76,380.27 1223.53,391.25" fill="none" stroke="#000" stroke-width="1.5" stroke-linejoin="round"/>
<polyline points="1267.66,181 1284.34,325.4 1290.44,359.48 1281.65,373.63 1295.1,380.27 1295.1,391.25" fill="none" stroke="#000" stroke-width="1.5" stroke-linejoin="round"/>
<polygon points="1254.93,182.92 1251.98,185.63 1247.81,185.63 1244.86,182.92 1244.86,179.08 1247.81,176.37 1251.98,176.37 1254.93,179.08" fill="#f2f07e" stroke="#000" stroke-width="1.6"/>
<polygon points="1266.59,327.32 1263.64,330.03 1259.47,330.03 1256.52,327.32 1256.52,323.48 1259.47,320.77 1263.64,320.77 1266.59,323.48" fill="#f2f07e" stroke="#000" stroke-width="1.6"/>
<polygon points="1270.18,361.4 1267.23,364.11 1263.06,364.11 1260.11,361.4 1260.11,357.56 1263.06,354.84 1267.23,354.84 1270.18,357.56" fill="#f2f07e" stroke="#000" stroke-width="1.6"/>
<polygon points="1267.31,375.55 1264.36,378.26 1260.19,378.26 1257.24,375.55 1257.24,371.71 1260.19,369 1264.36,369 1267.31,371.71" fill="#f2f07e" stroke="#000" stroke-width="1.6"/>
<polygon points="1273.41,382.19 1270.46,384.91 1266.29,384.91 1263.34,382.19 1263.34,378.35 1266.29,375.64 1270.46,375.64 1273.41,378.35" fill="#f2f07e" stroke="#000" stroke-width="1.6"/>
<polygon points="1273.41,393.17 1270.46,395.88 1266.29,395.88 1263.34,393.17 1263.34,389.33 1266.29,386.61 1270.46,386.61 1273.41,389.33" fill="#f2f07e" stroke="#000" stroke-width="1.6"/>
<polygon points="1267.66,176.25 1271.66,182.75 1263.66,182.75" fill="#3144a4" stroke="#000" stroke-width="1.6" stroke-linejoin="miter"/>
<polygon points="1284.34,321.08 1289.98,329.72 1278.7,329.72" fill="#3144a4" stroke="#000" stroke-width="1.6" stroke-linejoin="miter"/>
<polygon points="1290.44,355.15 1296.08,363.8 1284.8,363.8" fill="#3144a4" stroke="#000" stroke-width="1.6" stroke-linejoin="miter"/>
<polygon points="1281.65,369.31 1287.29,377.95 1276.01,377.95" fill="#3144a4" stroke="#000" stroke-width="1.6" stroke-linejoin="miter"/>
<polygon points="1295.1,375.95 1300.74,384.6 1289.46,384.6" fill="#3144a4" stroke="#000" stroke-width="1.6" stroke-linejoin="miter"/>
<polygon points="1295.1,386.92 1300.74,395.57 1289.46,395.57" fill="#3144a4" stroke="#000" stroke-width="1.6" stroke-linejoin="miter"/>
<rect x="1244.57" y="176.21" width="9.59" height="9.59" fill="#e81d2f" stroke="#000" stroke-width="1.8"/>
<rect x="1223.76" y="320.61" width="9.59" height="9.59" fill="#e81d2f" stroke="#000" stroke-width="1.8"/>
<rect x="1216.04" y="354.68" width="9.59" height="9.59" fill="#e81d2f" stroke="#000" stroke-width="1.8"/>
<rect x="1214.97" y="374.32" width="9.59" height="9.59" fill="#e81d2f" stroke="#000" stroke-width="1.8"/>
<rect x="1214.97" y="375.48" width="9.59" height="9.59" fill="#e81d2f" stroke="#000" stroke-width="1.8"/>
<rect x="1218.74" y="386.45" width="9.59" height="9.59" fill="#e81d2f" stroke="#000" stroke-width="1.8"/>
<polyline points="922.08,572.9 919.1,580.12 912.61,587.99 917.75,612.38 932.37,652.49 923.98,692.12 950.78,772.02 944.55,811.49 962.15,835.4 964.59,842.94 956.74,846.63 963.78,851.12" fill="none" stroke="#000" stroke-width="1.5" stroke-linejoin="round"/>
<polyline points="921.81,572.58 918.83,580.45 887.97,587.99 897.44,612.38 879.85,652.49 899.61,692.12 876.87,772.66 880.39,811.49 876.6,835.4 878.49,842.94 887.97,847.43 874.43,850.32" fill="none" stroke="#000" stroke-width="1.5" stroke-linejoin="round"/>
<polyline points="931.29,571.78 934.81,579.48 946.18,587.99 954.57,612.38 969.73,651.85 1030.65,691.48 989.5,772.66 998.16,811.49 998.7,835.4 1004.39,842.94 1013.87,847.43 1001.68,849.68" fill="none" stroke="#000" stroke-width="1.5" stroke-linejoin="round"/>
<polygon points="927.44,574.95 924.3,577.83 919.86,577.83 916.72,574.95 916.72,570.86 919.86,567.97 924.3,567.97 927.44,570.86" fill="#f2f07e" stroke="#000" stroke-width="1.6"/>
<polygon points="924.46,582.17 921.32,585.05 916.88,585.05 913.75,582.17 913.75,578.08 916.88,575.19 921.32,575.19 924.46,578.08" fill="#f2f07e" stroke="#000" stroke-width="1.6"/>
<polygon points="917.96,590.03 914.83,592.92 910.39,592.92 907.25,590.03 907.25,585.94 910.39,583.06 914.83,583.06 917.96,585.94" fill="#f2f07e" stroke="#000" stroke-width="1.6"/>
<polygon points="923.11,614.42 919.97,617.31 915.53,617.31 912.39,614.42 912.39,610.33 915.53,607.45 919.97,607.45 923.11,610.33" fill="#f2f07e" stroke="#000" stroke-width="1.6"/>
<polygon points="937.73,654.53 934.59,657.42 930.15,657.42 927.01,654.53 927.01,650.45 930.15,647.56 934.59,647.56 937.73,650.45" fill="#f2f07e" stroke="#000" stroke-width="1.6"/>
<polygon points="929.34,694.16 926.2,697.05 921.76,697.05 918.62,694.16 918.62,690.08 921.76,687.19 926.2,687.19 929.34,690.08" fill="#f2f07e" stroke="#000" stroke-width="1.6"/>
<polygon points="956.14,774.06 953,776.95 948.56,776.95 945.42,774.06 945.42,769.98 948.56,767.09 953,767.09 956.14,769.98" fill="#f2f07e" stroke="#000" stroke-width="1.6"/>
<polygon points="949.91,813.54 946.77,816.42 942.33,816.42 939.2,813.54 939.2,809.45 942.33,806.56 946.77,806.56 949.91,809.45" fill="#f2f07e" stroke="#000" stroke-width="1.6"/>
<polygon points="967.51,837.44 964.37,840.33 959.93,840.33 956.79,837.44 956.79,833.36 959.93,830.47 964.37,830.47 967.51,833.36" fill="#f2f07e" stroke="#000" stroke-width="1.6"/>
<polygon points="969.95,844.98 966.81,847.87 962.37,847.87 959.23,844.98 959.23,840.9 962.37,838.01 966.81,838.01 969.95,840.9" fill="#f2f07e" stroke="#000" stroke-width="1.6"/>
<polygon points="962.1,848.67 958.96,851.56 954.52,851.56 951.38,848.67 951.38,844.59 954.52,841.7 958.96,841.7 962.1,844.59" fill="#f2f07e" stroke="#000" stroke-width="1.6"/>
<polygon points="969.14,853.17 966,856.05 961.56,856.05 958.42,853.17 958.42,849.08 961.56,846.19 966,846.19 969.14,849.08" fill="#f2f07e" stroke="#000" stroke-width="1.6"/>
<polygon points="931.29,567.18 937.29,576.38 925.29,576.38" fill="#3144a4" stroke="#000" stroke-width="1.6" stroke-linejoin="miter"/>
<polygon points="934.81,574.88 940.81,584.08 928.81,584.08" fill="#3144a4" stroke="#000" stroke-width="1.6" stroke-linejoin="miter"/>
<polygon points="946.18,583.39 952.18,592.59 940.18,592.59" fill="#3144a4" stroke="#000" stroke-width="1.6" stroke-linejoin="miter"/>
<polygon points="954.57,607.78 960.57,616.98 948.57,616.98" fill="#3144a4" stroke="#000" stroke-width="1.6" stroke-linejoin="miter"/>
<polygon points="969.73,647.25 975.73,656.45 963.73,656.45" fill="#3144a4" stroke="#000" stroke-width="1.6" stroke-linejoin="miter"/>
<polygon points="1030.65,686.88 1036.65,696.08 1024.65,696.08" fill="#3144a4" stroke="#000" stroke-width="1.6" stroke-linejoin="miter"/>
<polygon points="989.5,768.06 995.5,777.26 983.5,777.26" fill="#3144a4" stroke="#000" stroke-width="1.6" stroke-linejoin="miter"/>
<polygon points="998.16,806.89 1004.16,816.09 992.16,816.09" fill="#3144a4" stroke="#000" stroke-width="1.6" stroke-linejoin="miter"/>
<polygon points="998.7,830.8 1004.7,840 992.7,840" fill="#3144a4" stroke="#000" stroke-width="1.6" stroke-linejoin="miter"/>
<polygon points="1004.39,838.34 1010.39,847.54 998.39,847.54" fill="#3144a4" stroke="#000" stroke-width="1.6" stroke-linejoin="miter"/>
<polygon points="1013.87,842.83 1019.87,852.03 1007.87,852.03" fill="#3144a4" stroke="#000" stroke-width="1.6" stroke-linejoin="miter"/>
<polygon points="1001.68,845.08 1007.68,854.28 995.68,854.28" fill="#3144a4" stroke="#000" stroke-width="1.6" stroke-linejoin="miter"/>
<rect x="916.71" y="567.48" width="10.2" height="10.2" fill="#e81d2f" stroke="#000" stroke-width="1.8"/>
<rect x="913.73" y="575.35" width="10.2" height="10.2" fill="#e81d2f" stroke="#000" stroke-width="1.8"/>
<rect x="882.87" y="582.89" width="10.2" height="10.2" fill="#e81d2f" stroke="#000" stroke-width="1.8"/>
<rect x="892.34" y="607.28" width="10.2" height="10.2" fill="#e81d2f" stroke="#000" stroke-width="1.8"/>
<rect x="874.75" y="647.39" width="10.2" height="10.2" fill="#e81d2f" stroke="#000" stroke-width="1.8"/>
<rect x="894.51" y="687.02" width="10.2" height="10.2" fill="#e81d2f" stroke="#000" stroke-width="1.8"/>
<rect x="871.77" y="767.56" width="10.2" height="10.2" fill="#e81d2f" stroke="#000" stroke-width="1.8"/>
<rect x="875.29" y="806.39" width="10.2" height="10.2" fill="#e81d2f" stroke="#000" stroke-width="1.8"/>
<rect x="871.5" y="830.3" width="10.2" height="10.2" fill="#e81d2f" stroke="#000" stroke-width="1.8"/>
<rect x="873.39" y="837.84" width="10.2" height="10.2" fill="#e81d2f" stroke="#000" stroke-width="1.8"/>
<rect x="882.87" y="842.33" width="10.2" height="10.2" fill="#e81d2f" stroke="#000" stroke-width="1.8"/>
<rect x="869.33" y="845.22" width="10.2" height="10.2" fill="#e81d2f" stroke="#000" stroke-width="1.8"/>
<polyline points="1249.4,729.75 1266.84,784.43 1262.35,814.38 1275.11,824.14 1277.98,829.57 1270.79,834.13" fill="none" stroke="#000" stroke-width="1.5" stroke-linejoin="round"/>
<polyline points="1233.05,729.75 1218.31,784 1220.64,814.38 1217.59,825.23 1217.95,830.87 1225.14,835.43" fill="none" stroke="#000" stroke-width="1.5" stroke-linejoin="round"/>
<polyline points="1320.58,728.23 1293.08,784 1298.47,813.3 1300.27,825.23 1303.87,830.65 1309.26,835.43" fill="none" stroke="#000" stroke-width="1.5" stroke-linejoin="round"/>
<polygon points="1254.44,731.67 1251.49,734.38 1247.32,734.38 1244.37,731.67 1244.37,727.83 1247.32,725.12 1251.49,725.12 1254.44,727.83" fill="#f2f07e" stroke="#000" stroke-width="1.6"/>
<polygon points="1271.88,786.35 1268.93,789.07 1264.75,789.07 1261.8,786.35 1261.8,782.51 1264.75,779.8 1268.93,779.8 1271.88,782.51" fill="#f2f07e" stroke="#000" stroke-width="1.6"/>
<polygon points="1267.38,816.3 1264.43,819.01 1260.26,819.01 1257.31,816.3 1257.31,812.46 1260.26,809.75 1264.43,809.75 1267.38,812.46" fill="#f2f07e" stroke="#000" stroke-width="1.6"/>
<polygon points="1280.14,826.06 1277.19,828.78 1273.02,828.78 1270.07,826.06 1270.07,822.23 1273.02,819.51 1277.19,819.51 1280.14,822.23" fill="#f2f07e" stroke="#000" stroke-width="1.6"/>
<polygon points="1283.02,831.49 1280.07,834.2 1275.9,834.2 1272.95,831.49 1272.95,827.65 1275.9,824.94 1280.07,824.94 1283.02,827.65" fill="#f2f07e" stroke="#000" stroke-width="1.6"/>
<polygon points="1275.83,836.05 1272.88,838.76 1268.71,838.76 1265.76,836.05 1265.76,832.21 1268.71,829.49 1272.88,829.49 1275.83,832.21" fill="#f2f07e" stroke="#000" stroke-width="1.6"/>
<polygon points="1320.58,723.91 1326.22,732.55 1314.94,732.55" fill="#3144a4" stroke="#000" stroke-width="1.6" stroke-linejoin="miter"/>
<polygon points="1293.08,779.68 1298.72,788.32 1287.44,788.32" fill="#3144a4" stroke="#000" stroke-width="1.6" stroke-linejoin="miter"/>
<polygon points="1298.47,808.97 1304.12,817.62 1292.83,817.62" fill="#3144a4" stroke="#000" stroke-width="1.6" stroke-linejoin="miter"/>
<polygon points="1300.27,820.91 1305.91,829.55 1294.63,829.55" fill="#3144a4" stroke="#000" stroke-width="1.6" stroke-linejoin="miter"/>
<polygon points="1303.87,826.33 1309.51,834.98 1298.23,834.98" fill="#3144a4" stroke="#000" stroke-width="1.6" stroke-linejoin="miter"/>
<polygon points="1309.26,831.11 1314.9,839.75 1303.62,839.75" fill="#3144a4" stroke="#000" stroke-width="1.6" stroke-linejoin="miter"/>
<rect x="1228.25" y="724.96" width="9.59" height="9.59" fill="#e81d2f" stroke="#000" stroke-width="1.8"/>
<rect x="1213.51" y="779.21" width="9.59" height="9.59" fill="#e81d2f" stroke="#000" stroke-width="1.8"/>
<rect x="1215.85" y="809.59" width="9.59" height="9.59" fill="#e81d2f" stroke="#000" stroke-width="1.8"/>
<rect x="1212.79" y="820.44" width="9.59" height="9.59" fill="#e81d2f" stroke="#000" stroke-width="1.8"/>
<rect x="1213.15" y="826.08" width="9.59" height="9.59" fill="#e81d2f" stroke="#000" stroke-width="1.8"/>
<rect x="1220.34" y="830.63" width="9.59" height="9.59" fill="#e81d2f" stroke="#000" stroke-width="1.8"/>
<polyline points="928.38,1013.86 927.3,1020.92 915.93,1026.19 923.24,1045.33 930.27,1078.1 953.01,1161.48 949.49,1225.08 955.44,1257.84 960.58,1275.19 958.42,1282.89 956.25,1289.32" fill="none" stroke="#000" stroke-width="1.5" stroke-linejoin="round"/>
<polyline points="1025.8,1014.5 903.75,1018.48 903.21,1027.22 895.9,1046.36 887.24,1077.58 888.6,1161.48 876.42,1225.08 872.9,1257.84 881.56,1276.08 888.6,1283.54 875.07,1285.08 878.04,1288.68" fill="none" stroke="#000" stroke-width="1.5" stroke-linejoin="round"/>
<polyline points="980.07,1013.86 959.5,1019.12 944.62,1026.19 954.36,1044.95 970.87,1078.1 986.56,1161.48 988.19,1224.56 991.16,1256.94 999.01,1276.08 1000.37,1283.41 997.39,1288.68" fill="none" stroke="#000" stroke-width="1.5" stroke-linejoin="round"/>
<polygon points="933.74,1015.9 930.6,1018.79 926.16,1018.79 923.02,1015.9 923.02,1011.81 926.16,1008.93 930.6,1008.93 933.74,1011.81" fill="#f2f07e" stroke="#000" stroke-width="1.6"/>
<polygon points="932.66,1022.97 929.52,1025.85 925.08,1025.85 921.94,1022.97 921.94,1018.88 925.08,1015.99 929.52,1015.99 932.66,1018.88" fill="#f2f07e" stroke="#000" stroke-width="1.6"/>
<polygon points="915.93,1018.99 922.05,1026.19 915.93,1033.39 909.81,1026.19" fill="#f2f07e" stroke="#000" stroke-width="1.6"/>
<polygon points="923.24,1038.13 929.36,1045.33 923.24,1052.53 917.12,1045.33" fill="#f2f07e" stroke="#000" stroke-width="1.6"/>
<polygon points="935.63,1080.14 932.49,1083.03 928.05,1083.03 924.92,1080.14 924.92,1076.05 928.05,1073.17 932.49,1073.17 935.63,1076.05" fill="#f2f07e" stroke="#000" stroke-width="1.6"/>
<polygon points="958.36,1163.52 955.23,1166.41 950.79,1166.41 947.65,1163.52 947.65,1159.44 950.79,1156.55 955.23,1156.55 958.36,1159.44" fill="#f2f07e" stroke="#000" stroke-width="1.6"/>
<polygon points="954.85,1227.12 951.71,1230.01 947.27,1230.01 944.13,1227.12 944.13,1223.04 947.27,1220.15 951.71,1220.15 954.85,1223.04" fill="#f2f07e" stroke="#000" stroke-width="1.6"/>
<polygon points="955.44,1250.64 961.56,1257.84 955.44,1265.04 949.32,1257.84" fill="#f2f07e" stroke="#000" stroke-width="1.6"/>
<polygon points="965.94,1277.23 962.8,1280.12 958.36,1280.12 955.23,1277.23 955.23,1273.14 958.36,1270.26 962.8,1270.26 965.94,1273.14" fill="#f2f07e" stroke="#000" stroke-width="1.6"/>
<polygon points="963.78,1284.94 960.64,1287.82 956.2,1287.82 953.06,1284.94 953.06,1280.85 956.2,1277.96 960.64,1277.96 963.78,1280.85" fill="#f2f07e" stroke="#000" stroke-width="1.6"/>
<polygon points="961.61,1291.36 958.47,1294.25 954.03,1294.25 950.9,1291.36 950.9,1287.28 954.03,1284.39 958.47,1284.39 961.61,1287.28" fill="#f2f07e" stroke="#000" stroke-width="1.6"/>
<polygon points="980.07,1009.26 986.07,1018.46 974.07,1018.46" fill="#3144a4" stroke="#000" stroke-width="1.6" stroke-linejoin="miter"/>
<polygon points="959.5,1014.52 965.5,1023.72 953.5,1023.72" fill="#3144a4" stroke="#000" stroke-width="1.6" stroke-linejoin="miter"/>
<polygon points="944.62,1021.59 950.62,1030.79 938.62,1030.79" fill="#3144a4" stroke="#000" stroke-width="1.6" stroke-linejoin="miter"/>
<polygon points="954.36,1040.35 960.36,1049.55 948.36,1049.55" fill="#3144a4" stroke="#000" stroke-width="1.6" stroke-linejoin="miter"/>
<polygon points="970.87,1073.5 976.87,1082.7 964.87,1082.7" fill="#3144a4" stroke="#000" stroke-width="1.6" stroke-linejoin="miter"/>
<polygon points="986.56,1156.88 992.56,1166.08 980.56,1166.08" fill="#3144a4" stroke="#000" stroke-width="1.6" stroke-linejoin="miter"/>
<polygon points="988.19,1219.96 994.19,1229.16 982.19,1229.16" fill="#3144a4" stroke="#000" stroke-width="1.6" stroke-linejoin="miter"/>
<polygon points="991.16,1252.34 997.16,1261.54 985.16,1261.54" fill="#3144a4" stroke="#000" stroke-width="1.6" stroke-linejoin="miter"/>
<polygon points="999.01,1271.48 1005.01,1280.68 993.01,1280.68" fill="#3144a4" stroke="#000" stroke-width="1.6" stroke-linejoin="miter"/>
<polygon points="1000.37,1278.81 1006.37,1288.01 994.37,1288.01" fill="#3144a4" stroke="#000" stroke-width="1.6" stroke-linejoin="miter"/>
<polygon points="997.39,1284.08 1003.39,1293.28 991.39,1293.28" fill="#3144a4" stroke="#000" stroke-width="1.6" stroke-linejoin="miter"/>
<rect x="1020.7" y="1009.4" width="10.2" height="10.2" fill="#e81d2f" stroke="#000" stroke-width="1.8"/>
<rect x="898.65" y="1013.38" width="10.2" height="10.2" fill="#e81d2f" stroke="#000" stroke-width="1.8"/>
<rect x="898.11" y="1022.12" width="10.2" height="10.2" fill="#e81d2f" stroke="#000" stroke-width="1.8"/>
<rect x="890.8" y="1041.26" width="10.2" height="10.2" fill="#e81d2f" stroke="#000" stroke-width="1.8"/>
<rect x="882.14" y="1072.48" width="10.2" height="10.2" fill="#e81d2f" stroke="#000" stroke-width="1.8"/>
<rect x="883.5" y="1156.38" width="10.2" height="10.2" fill="#e81d2f" stroke="#000" stroke-width="1.8"/>
<rect x="871.32" y="1219.98" width="10.2" height="10.2" fill="#e81d2f" stroke="#000" stroke-width="1.8"/>
<rect x="867.8" y="1252.74" width="10.2" height="10.2" fill="#e81d2f" stroke="#000" stroke-width="1.8"/>
<rect x="876.46" y="1270.98" width="10.2" height="10.2" fill="#e81d2f" stroke="#000" stroke-width="1.8"/>
<rect x="883.5" y="1278.44" width="10.2" height="10.2" fill="#e81d2f" stroke="#000" stroke-width="1.8"/>
<rect x="869.97" y="1279.98" width="10.2" height="10.2" fill="#e81d2f" stroke="#000" stroke-width="1.8"/>
<rect x="872.94" y="1283.58" width="10.2" height="10.2" fill="#e81d2f" stroke="#000" stroke-width="1.8"/>
<polyline points="1248.39,1139.15 1253.95,1210.52 1267.24,1247.14 1266.7,1268.54 1271.73,1275.86 1271.9,1284.05" fill="none" stroke="#000" stroke-width="1.5" stroke-linejoin="round"/>
<polyline points="1230.08,1139.58 1225.41,1210.52 1226.67,1247.14 1218.41,1268.97 1215,1275.86 1219.67,1278.73 1226.67,1284.05" fill="none" stroke="#000" stroke-width="1.5" stroke-linejoin="round"/>
<polyline points="1269.57,1139.58 1279.98,1210.52 1290.75,1247.14 1290.75,1268.97 1296.86,1277.3 1298.65,1283.04" fill="none" stroke="#000" stroke-width="1.5" stroke-linejoin="round"/>
<polygon points="1253.43,1141.07 1250.48,1143.79 1246.3,1143.79 1243.35,1141.07 1243.35,1137.23 1246.3,1134.52 1250.48,1134.52 1253.43,1137.23" fill="#f2f07e" stroke="#000" stroke-width="1.6"/>
<polygon points="1258.99,1212.44 1256.04,1215.16 1251.87,1215.16 1248.92,1212.44 1248.92,1208.6 1251.87,1205.89 1256.04,1205.89 1258.99,1208.6" fill="#f2f07e" stroke="#000" stroke-width="1.6"/>
<polygon points="1272.27,1249.06 1269.32,1251.77 1265.15,1251.77 1262.2,1249.06 1262.2,1245.22 1265.15,1242.51 1269.32,1242.51 1272.27,1245.22" fill="#f2f07e" stroke="#000" stroke-width="1.6"/>
<polygon points="1271.74,1270.46 1268.79,1273.17 1264.61,1273.17 1261.66,1270.46 1261.66,1266.62 1264.61,1263.9 1268.79,1263.9 1271.74,1266.62" fill="#f2f07e" stroke="#000" stroke-width="1.6"/>
<polygon points="1276.76,1277.78 1273.81,1280.49 1269.64,1280.49 1266.69,1277.78 1266.69,1273.94 1269.64,1271.23 1273.81,1271.23 1276.76,1273.94" fill="#f2f07e" stroke="#000" stroke-width="1.6"/>
<polygon points="1276.94,1285.96 1273.99,1288.68 1269.82,1288.68 1266.87,1285.96 1266.87,1282.13 1269.82,1279.41 1273.99,1279.41 1276.94,1282.13" fill="#f2f07e" stroke="#000" stroke-width="1.6"/>
<polygon points="1269.57,1135.26 1275.21,1143.91 1263.93,1143.91" fill="#3144a4" stroke="#000" stroke-width="1.6" stroke-linejoin="miter"/>
<polygon points="1279.98,1206.2 1285.62,1214.85 1274.34,1214.85" fill="#3144a4" stroke="#000" stroke-width="1.6" stroke-linejoin="miter"/>
<polygon points="1290.75,1242.82 1296.39,1251.46 1285.11,1251.46" fill="#3144a4" stroke="#000" stroke-width="1.6" stroke-linejoin="miter"/>
<polygon points="1290.75,1264.64 1296.39,1273.29 1285.11,1273.29" fill="#3144a4" stroke="#000" stroke-width="1.6" stroke-linejoin="miter"/>
<polygon points="1296.86,1272.97 1302.5,1281.62 1291.21,1281.62" fill="#3144a4" stroke="#000" stroke-width="1.6" stroke-linejoin="miter"/>
<polygon points="1298.65,1278.72 1304.29,1287.36 1293.01,1287.36" fill="#3144a4" stroke="#000" stroke-width="1.6" stroke-linejoin="miter"/>
<rect x="1225.29" y="1134.79" width="9.59" height="9.59" fill="#e81d2f" stroke="#000" stroke-width="1.8"/>
<rect x="1220.62" y="1205.73" width="9.59" height="9.59" fill="#e81d2f" stroke="#000" stroke-width="1.8"/>
<rect x="1221.88" y="1242.35" width="9.59" height="9.59" fill="#e81d2f" stroke="#000" stroke-width="1.8"/>
<rect x="1213.62" y="1264.17" width="9.59" height="9.59" fill="#e81d2f" stroke="#000" stroke-width="1.8"/>
<rect x="1210.21" y="1271.07" width="9.59" height="9.59" fill="#e81d2f" stroke="#000" stroke-width="1.8"/>
<rect x="1214.88" y="1273.94" width="9.59" height="9.59" fill="#e81d2f" stroke="#000" stroke-width="1.8"/>
<rect x="1221.88" y="1279.25" width="9.59" height="9.59" fill="#e81d2f" stroke="#000" stroke-width="1.8"/>
<text stroke="none" fill="#000" x="219.5" y="36.2" font-size="40" text-anchor="start" font-weight="normal" font-family='"Liberation Sans", sans-serif' >DOC</text>
<text stroke="none" fill="#000" x="319" y="36.2" font-size="40" text-anchor="start" font-weight="normal" font-family='"Liberation Serif", serif' >(&#956;M)</text>
<text stroke="none" fill="#000" x="889.5" y="36.4" font-size="41.2" text-anchor="start" font-weight="normal" font-family='"Liberation Sans", sans-serif' >F.I (R.U.)</text>
<text stroke="none" fill="#000" x="-2.8" y="142.6" font-size="45.3" text-anchor="start" font-weight="normal" font-family='"Liberation Sans", sans-serif' >KU04</text>
<text stroke="none" fill="#000" x="-0.9" y="580" font-size="45.3" text-anchor="start" font-weight="normal" font-family='"Liberation Sans", sans-serif' >KU06</text>
<text stroke="none" fill="#000" x="-0.9" y="1011.8" font-size="45.3" text-anchor="start" font-weight="normal" font-family='"Liberation Sans", sans-serif' >KU10</text>
<text x="0" y="0" font-size="39.6" text-anchor="middle" font-family='"Liberation Sans", sans-serif' transform="translate(77.3,288.6) rotate(-90)">Depth (m)</text>
<text x="0" y="0" font-size="39.6" text-anchor="middle" font-family='"Liberation Sans", sans-serif' transform="translate(77.3,730.8) rotate(-90)">Depth (m)</text>
<text x="0" y="0" font-size="39.6" text-anchor="middle" font-family='"Liberation Sans", sans-serif' transform="translate(75.1,1172.6) rotate(-90)">Depth (m)</text>
<text stroke="none" fill="#000" x="392.1" y="432.9" font-size="29.5" text-anchor="end" font-weight="bold" font-family='"Liberation Sans", sans-serif' >A</text>
<text stroke="none" fill="#000" x="1057" y="432.3" font-size="29.5" text-anchor="end" font-weight="bold" font-family='"Liberation Sans", sans-serif' >B</text>
<text stroke="none" fill="#000" x="392.9" y="870.2" font-size="29.5" text-anchor="end" font-weight="bold" font-family='"Liberation Sans", sans-serif' >C</text>
<text stroke="none" fill="#000" x="1056.7" y="870" font-size="29.5" text-anchor="end" font-weight="bold" font-family='"Liberation Sans", sans-serif' >D</text>
<text stroke="none" fill="#000" x="390" y="1310.5" font-size="29.5" text-anchor="end" font-weight="bold" font-family='"Liberation Sans", sans-serif' >E</text>
<text stroke="none" fill="#000" x="1057" y="1310.5" font-size="29.5" text-anchor="end" font-weight="bold" font-family='"Liberation Sans", sans-serif' >F</text>
<text stroke="none" fill="#000" x="685" y="380.2" font-size="28" text-anchor="end" font-weight="normal" font-family='"Liberation Sans", sans-serif' >(A1)</text>
<text stroke="none" fill="#000" x="1347.4" y="215.2" font-size="28" text-anchor="end" font-weight="normal" font-family='"Liberation Sans", sans-serif' >(B1)</text>
<text stroke="none" fill="#000" x="685" y="876.3" font-size="28" text-anchor="end" font-weight="normal" font-family='"Liberation Sans", sans-serif' >(C1)</text>
<text stroke="none" fill="#000" x="1349.4" y="876.3" font-size="28" text-anchor="end" font-weight="normal" font-family='"Liberation Sans", sans-serif' >(D1)</text>
<text stroke="none" fill="#000" x="685" y="1320.5" font-size="28" text-anchor="end" font-weight="normal" font-family='"Liberation Sans", sans-serif' >(E1)</text>
<text stroke="none" fill="#000" x="1345.8" y="1320.5" font-size="28" text-anchor="end" font-weight="normal" font-family='"Liberation Sans", sans-serif' >(F1)</text>
<rect x="1302.4" y="463.9" width="144" height="118.6" fill="none" stroke="#000" stroke-width="3.2"/>
<g stroke="#000" stroke-width="1.5">
<line x1="1313" y1="490.6" x2="1364.7" y2="490.6"/>
<line x1="1313" y1="523.6" x2="1364.7" y2="523.6"/>
<line x1="1313" y1="556.5" x2="1364.7" y2="556.5"/>
</g>
<polygon points="1338.6,483.8 1344.38,490.6 1338.6,497.4 1332.82,490.6" fill="#f2f07e" stroke="#000" stroke-width="1.6"/>
<rect x="1332.55" y="518.35" width="10.5" height="10.5" fill="#e81d2f" stroke="#000" stroke-width="1.8"/>
<polygon points="1338.6,551.3 1344.85,560.3 1332.35,560.3" fill="#3144a4" stroke="#000" stroke-width="1.6" stroke-linejoin="miter"/>
<text stroke="none" fill="#000" transform="translate(1391.5,498.9) scale(0.94,1)" font-size="29.8" text-anchor="start" font-weight="normal" font-family='"Liberation Sans", sans-serif' >C1</text>
<text stroke="none" fill="#000" transform="translate(1391.5,532.8) scale(0.94,1)" font-size="29.8" text-anchor="start" font-weight="normal" font-family='"Liberation Sans", sans-serif' >C2</text>
<text stroke="none" fill="#000" transform="translate(1391.5,566.2) scale(0.94,1)" font-size="29.8" text-anchor="start" font-weight="normal" font-family='"Liberation Sans", sans-serif' >C3</text>
</svg>
</body></html>
